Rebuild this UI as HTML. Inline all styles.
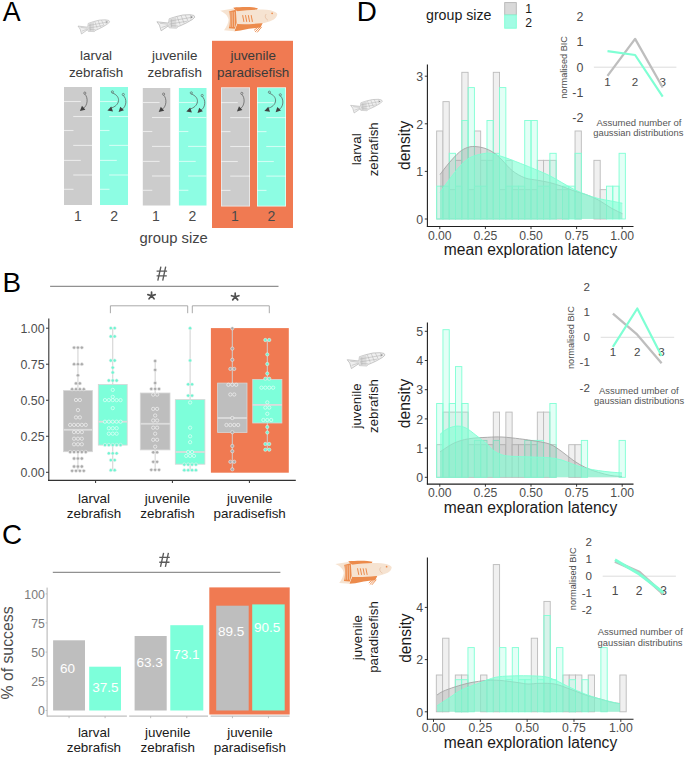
<!DOCTYPE html>
<html><head><meta charset="utf-8"><style>
html,body{margin:0;padding:0;background:#fff;width:685px;height:757px;overflow:hidden}
svg{display:block}
text{font-family:"Liberation Sans", sans-serif}
</style></head><body>
<svg width="685" height="757" viewBox="0 0 685 757">
<rect width="685" height="757" fill="#FFFFFF"/>
<text x="2.85" y="20.80" font-size="27.8" fill="#000" text-anchor="start" textLength="17.9" lengthAdjust="spacingAndGlyphs">A</text>
<g transform="translate(78.00,19.80) scale(0.8404,0.9221)"><path d="M0,6.8 L11.6,8 L12.2,3.9 L18.6,1.9 L25.7,0.3 L32.8,0 L36.6,0.7 L37.6,2.3 L35.3,4.5 L28.9,8 L23.8,10.3 L21.2,11.3 L19.3,12.8 L12.2,12.5 L11.6,10.6 L4.2,15.4 L2.5,10 Z" fill="#EFEFEF" stroke="#B3B3B3" stroke-width="0.7" stroke-linejoin="round"/><path d="M12.2,4 L19,2 L19.3,12.8 L12.2,12.5 Z" fill="#DADADA" stroke="none"/><path d="M12.5,6.2 L35,2.4" stroke="#B3B3B3" stroke-width="0.55" fill="none"/><path d="M12.5,9 L30,6.2" stroke="#B3B3B3" stroke-width="0.55" fill="none"/><path d="M20,2 L23,9.5" stroke="#B3B3B3" stroke-width="0.55" fill="none"/><path d="M24,1 L27,8.3" stroke="#B3B3B3" stroke-width="0.55" fill="none"/><path d="M28,0.4 L31,6.4" stroke="#B3B3B3" stroke-width="0.55" fill="none"/><path d="M33.2,0.4 L33.6,4.6" stroke="#B3B3B3" stroke-width="0.55" fill="none"/><path d="M3,8.2 L11.4,9.2" stroke="#B3B3B3" stroke-width="0.55" fill="none"/><path d="M4.5,12.3 L11.3,10" stroke="#B3B3B3" stroke-width="0.55" fill="none"/><path d="M14,10.5 L21,10.8" stroke="#B3B3B3" stroke-width="0.55" fill="none"/><path d="M14.5,4.5 L14.5,12" stroke="#B3B3B3" stroke-width="0.55" fill="none"/><circle cx="34.4" cy="2.3" r="0.8" fill="#8A8A8A"/></g>
<g transform="translate(156.90,14.70) scale(1.0106,1.0455)"><path d="M0,6.8 L11.6,8 L12.2,3.9 L18.6,1.9 L25.7,0.3 L32.8,0 L36.6,0.7 L37.6,2.3 L35.3,4.5 L28.9,8 L23.8,10.3 L21.2,11.3 L19.3,12.8 L12.2,12.5 L11.6,10.6 L4.2,15.4 L2.5,10 Z" fill="#EFEFEF" stroke="#B3B3B3" stroke-width="0.7" stroke-linejoin="round"/><path d="M12.2,4 L19,2 L19.3,12.8 L12.2,12.5 Z" fill="#DADADA" stroke="none"/><path d="M12.5,6.2 L35,2.4" stroke="#B3B3B3" stroke-width="0.55" fill="none"/><path d="M12.5,9 L30,6.2" stroke="#B3B3B3" stroke-width="0.55" fill="none"/><path d="M20,2 L23,9.5" stroke="#B3B3B3" stroke-width="0.55" fill="none"/><path d="M24,1 L27,8.3" stroke="#B3B3B3" stroke-width="0.55" fill="none"/><path d="M28,0.4 L31,6.4" stroke="#B3B3B3" stroke-width="0.55" fill="none"/><path d="M33.2,0.4 L33.6,4.6" stroke="#B3B3B3" stroke-width="0.55" fill="none"/><path d="M3,8.2 L11.4,9.2" stroke="#B3B3B3" stroke-width="0.55" fill="none"/><path d="M4.5,12.3 L11.3,10" stroke="#B3B3B3" stroke-width="0.55" fill="none"/><path d="M14,10.5 L21,10.8" stroke="#B3B3B3" stroke-width="0.55" fill="none"/><path d="M14.5,4.5 L14.5,12" stroke="#B3B3B3" stroke-width="0.55" fill="none"/><circle cx="34.4" cy="2.3" r="0.8" fill="#8A8A8A"/></g>
<rect x="212.00" y="40.80" width="81.00" height="187.20" fill="#F07A52" />
<g transform="translate(220.10,7.10) scale(1.0142,1.0449)"><path d="M13,0.6 C18,0.1 26,-0.2 32,0.2 L37.2,1.0 L36,3.2 L24,5.0 L17.5,6.8 Z" fill="#EC8B4C"/><path d="M14,23.1 L16.9,15.2 L42,15.2 L40,19.3 L28.4,20.8 L20,22.5 Z" fill="#EC8B4C"/><path d="M34.5,23.8 L40,18.5 M36.5,24.2 L41,19 M33.5,22.2 L39,18" stroke="#EC8B4C" stroke-width="0.9" fill="none"/><path d="M0,3.4 L13,1.4 L17,4 L17,16 L14,23.1 L3.9,22.2 C6.5,19 8.2,15 8.4,12.2 C8,8.5 4.5,5.2 0,3.4 Z" fill="#F6E3D1"/><path d="M8.6,4.2 L15.5,2.6 L16.3,15 L14.5,20.8 L8.6,20.2 C9.8,16 10.4,9 8.6,4.2 Z" fill="#EC8B4C"/><path d="M9.6,4.5 L9.9,19" stroke="#F6E3D1" stroke-width="0.7" fill="none" stroke-opacity="0.8"/><path d="M11.8,4.5 L12.100000000000001,19" stroke="#F6E3D1" stroke-width="0.7" fill="none" stroke-opacity="0.8"/><path d="M14.0,4.5 L14.3,19" stroke="#F6E3D1" stroke-width="0.7" fill="none" stroke-opacity="0.8"/><path d="M16.5,4 C24,3.2 31,2.4 37.2,2.4 C44,2.4 49,2.8 52.5,3.9 C55,4.8 56.4,5.8 56.4,6.9 C56,9.5 54.5,11 52.5,12 C48,14 44,15.2 40.9,15.4 C34,16 28,16.4 23.6,16.4 L16.9,16.2 Z" fill="#F6E3D1"/><path d="M22.2,7.6 L23.5,14.2" stroke="#EC8B4C" stroke-width="1.0" fill="none"/><path d="M25.0,7.6 L26.3,14.2" stroke="#EC8B4C" stroke-width="1.0" fill="none"/><path d="M27.8,7.6 L29.1,14.2" stroke="#EC8B4C" stroke-width="1.0" fill="none"/><path d="M30.6,7.6 L31.900000000000002,14.2" stroke="#EC8B4C" stroke-width="1.0" fill="none"/><path d="M45.6,6.6 C43.8,8.2 44.2,11 47.2,12.5" stroke="#D9A583" stroke-width="0.45" fill="none"/><circle cx="51.3" cy="6.0" r="0.85" fill="#EC8B4C"/></g>
<text x="96.10" y="60.20" font-size="13.4" fill="#3A3A3A" text-anchor="middle" >larval</text>
<text x="96.10" y="76.60" font-size="13.4" fill="#3A3A3A" text-anchor="middle" >zebrafish</text>
<text x="174.70" y="60.20" font-size="13.4" fill="#3A3A3A" text-anchor="middle" >juvenile</text>
<text x="174.70" y="76.60" font-size="13.4" fill="#3A3A3A" text-anchor="middle" >zebrafish</text>
<text x="253.20" y="60.20" font-size="13.4" fill="#3A3A3A" text-anchor="middle" >juvenile</text>
<text x="253.20" y="76.60" font-size="13.4" fill="#3A3A3A" text-anchor="middle" >paradisefish</text>
<rect x="64.00" y="87.00" width="28.00" height="118.00" fill="#CCCCCC" />
<line x1="64.00" y1="101.50" x2="80.80" y2="101.50" stroke="#FFFFFF" stroke-width="1.1" stroke-opacity="0.6"/>
<line x1="73.20" y1="116.50" x2="92.00" y2="116.50" stroke="#FFFFFF" stroke-width="1.1" stroke-opacity="0.6"/>
<line x1="64.00" y1="130.50" x2="73.50" y2="130.50" stroke="#FFFFFF" stroke-width="1.1" stroke-opacity="0.6"/>
<line x1="73.20" y1="145.40" x2="92.00" y2="145.40" stroke="#FFFFFF" stroke-width="1.1" stroke-opacity="0.6"/>
<line x1="64.00" y1="160.40" x2="80.80" y2="160.40" stroke="#FFFFFF" stroke-width="1.1" stroke-opacity="0.6"/>
<line x1="73.20" y1="175.00" x2="92.00" y2="175.00" stroke="#FFFFFF" stroke-width="1.1" stroke-opacity="0.6"/>
<line x1="64.00" y1="189.30" x2="73.50" y2="189.30" stroke="#FFFFFF" stroke-width="1.1" stroke-opacity="0.6"/>
<circle cx="84.80" cy="93.10" r="1.1" fill="none" stroke="#555" stroke-width="0.6"/>
<path d="M84.80,94.20 C88.20,97.10 88.20,106.10 82.50,108.90" fill="none" stroke="#555" stroke-width="0.7"/>
<polygon points="79.90,111.10 81.98,105.86 85.38,109.79" fill="#404040"/>
<rect x="100.00" y="87.00" width="28.00" height="118.00" fill="#8DFDE3" />
<line x1="100.00" y1="101.50" x2="116.80" y2="101.50" stroke="#FFFFFF" stroke-width="1.1" stroke-opacity="0.6"/>
<line x1="109.20" y1="116.50" x2="128.00" y2="116.50" stroke="#FFFFFF" stroke-width="1.1" stroke-opacity="0.6"/>
<line x1="100.00" y1="130.50" x2="109.50" y2="130.50" stroke="#FFFFFF" stroke-width="1.1" stroke-opacity="0.6"/>
<line x1="109.20" y1="145.40" x2="128.00" y2="145.40" stroke="#FFFFFF" stroke-width="1.1" stroke-opacity="0.6"/>
<line x1="100.00" y1="160.40" x2="116.80" y2="160.40" stroke="#FFFFFF" stroke-width="1.1" stroke-opacity="0.6"/>
<line x1="109.20" y1="175.00" x2="128.00" y2="175.00" stroke="#FFFFFF" stroke-width="1.1" stroke-opacity="0.6"/>
<line x1="100.00" y1="189.30" x2="109.50" y2="189.30" stroke="#FFFFFF" stroke-width="1.1" stroke-opacity="0.6"/>
<circle cx="112.40" cy="91.90" r="1.1" fill="none" stroke="#555" stroke-width="0.6"/>
<path d="M112.40,93.00 C121.00,95.90 121.00,105.60 110.00,108.40" fill="none" stroke="#555" stroke-width="0.7"/>
<polygon points="107.40,110.60 111.26,106.49 112.98,111.40" fill="#404040"/>
<circle cx="123.30" cy="94.50" r="1.1" fill="none" stroke="#555" stroke-width="0.6"/>
<path d="M123.30,95.60 C127.00,98.50 127.00,107.00 121.20,109.80" fill="none" stroke="#555" stroke-width="0.7"/>
<polygon points="118.60,112.00 120.30,106.63 123.97,110.30" fill="#404040"/>
<rect x="142.80" y="88.00" width="27.50" height="117.50" fill="#CCCCCC" />
<line x1="142.80" y1="102.50" x2="159.60" y2="102.50" stroke="#FFFFFF" stroke-width="1.1" stroke-opacity="0.6"/>
<line x1="152.00" y1="117.50" x2="170.30" y2="117.50" stroke="#FFFFFF" stroke-width="1.1" stroke-opacity="0.6"/>
<line x1="142.80" y1="131.50" x2="152.30" y2="131.50" stroke="#FFFFFF" stroke-width="1.1" stroke-opacity="0.6"/>
<line x1="152.00" y1="146.40" x2="170.30" y2="146.40" stroke="#FFFFFF" stroke-width="1.1" stroke-opacity="0.6"/>
<line x1="142.80" y1="161.40" x2="159.60" y2="161.40" stroke="#FFFFFF" stroke-width="1.1" stroke-opacity="0.6"/>
<line x1="152.00" y1="176.00" x2="170.30" y2="176.00" stroke="#FFFFFF" stroke-width="1.1" stroke-opacity="0.6"/>
<line x1="142.80" y1="190.30" x2="152.30" y2="190.30" stroke="#FFFFFF" stroke-width="1.1" stroke-opacity="0.6"/>
<circle cx="163.60" cy="94.10" r="1.1" fill="none" stroke="#555" stroke-width="0.6"/>
<path d="M163.60,95.20 C167.00,98.10 167.00,107.10 161.30,109.90" fill="none" stroke="#555" stroke-width="0.7"/>
<polygon points="158.70,112.10 160.78,106.86 164.18,110.79" fill="#404040"/>
<rect x="178.90" y="88.00" width="27.60" height="117.50" fill="#8DFDE3" />
<line x1="178.90" y1="102.50" x2="195.70" y2="102.50" stroke="#FFFFFF" stroke-width="1.1" stroke-opacity="0.6"/>
<line x1="188.10" y1="117.50" x2="206.50" y2="117.50" stroke="#FFFFFF" stroke-width="1.1" stroke-opacity="0.6"/>
<line x1="178.90" y1="131.50" x2="188.40" y2="131.50" stroke="#FFFFFF" stroke-width="1.1" stroke-opacity="0.6"/>
<line x1="188.10" y1="146.40" x2="206.50" y2="146.40" stroke="#FFFFFF" stroke-width="1.1" stroke-opacity="0.6"/>
<line x1="178.90" y1="161.40" x2="195.70" y2="161.40" stroke="#FFFFFF" stroke-width="1.1" stroke-opacity="0.6"/>
<line x1="188.10" y1="176.00" x2="206.50" y2="176.00" stroke="#FFFFFF" stroke-width="1.1" stroke-opacity="0.6"/>
<line x1="178.90" y1="190.30" x2="188.40" y2="190.30" stroke="#FFFFFF" stroke-width="1.1" stroke-opacity="0.6"/>
<circle cx="191.30" cy="92.90" r="1.1" fill="none" stroke="#555" stroke-width="0.6"/>
<path d="M191.30,94.00 C199.90,96.90 199.90,106.60 188.90,109.40" fill="none" stroke="#555" stroke-width="0.7"/>
<polygon points="186.30,111.60 190.16,107.49 191.88,112.40" fill="#404040"/>
<circle cx="202.20" cy="95.50" r="1.1" fill="none" stroke="#555" stroke-width="0.6"/>
<path d="M202.20,96.60 C205.90,99.50 205.90,108.00 200.10,110.80" fill="none" stroke="#555" stroke-width="0.7"/>
<polygon points="197.50,113.00 199.20,107.63 202.87,111.30" fill="#404040"/>
<rect x="221.00" y="87.30" width="29.00" height="119.20" fill="#EDEDED" />
<rect x="221.80" y="88.10" width="27.40" height="117.60" fill="#CCCCCC" />
<line x1="221.00" y1="102.60" x2="237.80" y2="102.60" stroke="#FFFFFF" stroke-width="1.1" stroke-opacity="0.6"/>
<line x1="230.20" y1="117.60" x2="250.00" y2="117.60" stroke="#FFFFFF" stroke-width="1.1" stroke-opacity="0.6"/>
<line x1="221.00" y1="131.60" x2="230.50" y2="131.60" stroke="#FFFFFF" stroke-width="1.1" stroke-opacity="0.6"/>
<line x1="230.20" y1="146.50" x2="250.00" y2="146.50" stroke="#FFFFFF" stroke-width="1.1" stroke-opacity="0.6"/>
<line x1="221.00" y1="161.50" x2="237.80" y2="161.50" stroke="#FFFFFF" stroke-width="1.1" stroke-opacity="0.6"/>
<line x1="230.20" y1="176.10" x2="250.00" y2="176.10" stroke="#FFFFFF" stroke-width="1.1" stroke-opacity="0.6"/>
<line x1="221.00" y1="190.40" x2="230.50" y2="190.40" stroke="#FFFFFF" stroke-width="1.1" stroke-opacity="0.6"/>
<circle cx="241.80" cy="93.40" r="1.1" fill="none" stroke="#555" stroke-width="0.6"/>
<path d="M241.80,94.50 C245.20,97.40 245.20,106.40 239.50,109.20" fill="none" stroke="#555" stroke-width="0.7"/>
<polygon points="236.90,111.40 238.98,106.16 242.38,110.09" fill="#404040"/>
<rect x="257.00" y="87.30" width="29.00" height="119.20" fill="#E6FFF8" />
<rect x="257.80" y="88.10" width="27.40" height="117.60" fill="#8DFDE3" />
<line x1="257.00" y1="102.60" x2="273.80" y2="102.60" stroke="#FFFFFF" stroke-width="1.1" stroke-opacity="0.6"/>
<line x1="266.20" y1="117.60" x2="286.00" y2="117.60" stroke="#FFFFFF" stroke-width="1.1" stroke-opacity="0.6"/>
<line x1="257.00" y1="131.60" x2="266.50" y2="131.60" stroke="#FFFFFF" stroke-width="1.1" stroke-opacity="0.6"/>
<line x1="266.20" y1="146.50" x2="286.00" y2="146.50" stroke="#FFFFFF" stroke-width="1.1" stroke-opacity="0.6"/>
<line x1="257.00" y1="161.50" x2="273.80" y2="161.50" stroke="#FFFFFF" stroke-width="1.1" stroke-opacity="0.6"/>
<line x1="266.20" y1="176.10" x2="286.00" y2="176.10" stroke="#FFFFFF" stroke-width="1.1" stroke-opacity="0.6"/>
<line x1="257.00" y1="190.40" x2="266.50" y2="190.40" stroke="#FFFFFF" stroke-width="1.1" stroke-opacity="0.6"/>
<circle cx="269.40" cy="92.20" r="1.1" fill="none" stroke="#555" stroke-width="0.6"/>
<path d="M269.40,93.30 C278.00,96.20 278.00,105.90 267.00,108.70" fill="none" stroke="#555" stroke-width="0.7"/>
<polygon points="264.40,110.90 268.26,106.79 269.98,111.70" fill="#404040"/>
<circle cx="280.30" cy="94.80" r="1.1" fill="none" stroke="#555" stroke-width="0.6"/>
<path d="M280.30,95.90 C284.00,98.80 284.00,107.30 278.20,110.10" fill="none" stroke="#555" stroke-width="0.7"/>
<polygon points="275.60,112.30 277.30,106.93 280.97,110.60" fill="#404040"/>
<text x="78.00" y="220.90" font-size="14" fill="#4A4A4A" text-anchor="middle" >1</text>
<text x="114.20" y="220.90" font-size="14" fill="#4A4A4A" text-anchor="middle" >2</text>
<text x="156.00" y="220.90" font-size="14" fill="#4A4A4A" text-anchor="middle" >1</text>
<text x="192.50" y="220.90" font-size="14" fill="#4A4A4A" text-anchor="middle" >2</text>
<text x="235.00" y="220.90" font-size="14" fill="#4A4A4A" text-anchor="middle" >1</text>
<text x="271.50" y="220.90" font-size="14" fill="#4A4A4A" text-anchor="middle" >2</text>
<text x="173.70" y="243.00" font-size="14.8" fill="#444" text-anchor="middle" >group size</text>
<text x="2.40" y="291.90" font-size="27.8" fill="#000" text-anchor="start" >B</text>
<path d="M160.90,266.60 L157.80,280.60 M165.70,266.60 L162.70,280.60 M156.60,271.10 L167.10,271.10 M156.60,275.90 L166.80,275.90" stroke="#5A5A5A" stroke-width="1.35" fill="none"/>
<line x1="50.10" y1="286.30" x2="278.50" y2="286.30" stroke="#666" stroke-width="0.9" />
<path d="M151.55,295.70 L151.55,292.10 M151.55,295.70 L147.85,294.60 M151.55,295.70 L155.25,294.60 M151.55,295.70 L149.05,298.80 M151.55,295.70 L154.05,298.80" stroke="#505050" stroke-width="1.7" stroke-linecap="round" fill="none"/>
<path d="M235.20,296.80 L235.20,293.20 M235.20,296.80 L231.50,295.70 M235.20,296.80 L238.90,295.70 M235.20,296.80 L232.70,299.90 M235.20,296.80 L237.70,299.90" stroke="#505050" stroke-width="1.7" stroke-linecap="round" fill="none"/>
<path d="M110.4,313.2 V305.8 H187.7 V313.2" fill="none" stroke="#A0A0A0" stroke-width="0.9"/>
<path d="M192.3,313.2 V305.8 H269.3 V313.2" fill="none" stroke="#A0A0A0" stroke-width="0.9"/>
<rect x="210.90" y="328.10" width="77.90" height="144.60" fill="#F07A52" />
<line x1="48.80" y1="318.50" x2="48.80" y2="480.90" stroke="#333" stroke-width="1.1" />
<line x1="48.00" y1="480.40" x2="295.80" y2="480.40" stroke="#333" stroke-width="1.1" />
<line x1="46.00" y1="328.20" x2="48.80" y2="328.20" stroke="#333" stroke-width="1" />
<text x="44.60" y="333.00" font-size="12.4" fill="#4D4D4D" text-anchor="end" >1.00</text>
<line x1="46.00" y1="364.23" x2="48.80" y2="364.23" stroke="#333" stroke-width="1" />
<text x="44.60" y="369.03" font-size="12.4" fill="#4D4D4D" text-anchor="end" >0.75</text>
<line x1="46.00" y1="400.25" x2="48.80" y2="400.25" stroke="#333" stroke-width="1" />
<text x="44.60" y="405.05" font-size="12.4" fill="#4D4D4D" text-anchor="end" >0.50</text>
<line x1="46.00" y1="436.28" x2="48.80" y2="436.28" stroke="#333" stroke-width="1" />
<text x="44.60" y="441.08" font-size="12.4" fill="#4D4D4D" text-anchor="end" >0.25</text>
<line x1="46.00" y1="472.30" x2="48.80" y2="472.30" stroke="#333" stroke-width="1" />
<text x="44.60" y="477.10" font-size="12.4" fill="#4D4D4D" text-anchor="end" >0.00</text>
<line x1="95.60" y1="480.40" x2="95.60" y2="483.00" stroke="#333" stroke-width="1" />
<line x1="172.40" y1="480.40" x2="172.40" y2="483.00" stroke="#333" stroke-width="1" />
<line x1="249.40" y1="480.40" x2="249.40" y2="483.00" stroke="#333" stroke-width="1" />
<text x="94.00" y="502.60" font-size="13.4" fill="#1A1A1A" text-anchor="middle" >larval</text>
<text x="94.00" y="517.90" font-size="13.4" fill="#1A1A1A" text-anchor="middle" >zebrafish</text>
<text x="167.50" y="502.60" font-size="13.4" fill="#1A1A1A" text-anchor="middle" >juvenile</text>
<text x="167.50" y="517.90" font-size="13.4" fill="#1A1A1A" text-anchor="middle" >zebrafish</text>
<text x="249.70" y="502.60" font-size="13.4" fill="#1A1A1A" text-anchor="middle" >juvenile</text>
<text x="249.70" y="517.90" font-size="13.4" fill="#1A1A1A" text-anchor="middle" >paradisefish</text>
<line x1="77.95" y1="347.40" x2="77.95" y2="390.60" stroke="#CFCFCF" stroke-width="1" />
<line x1="77.95" y1="451.70" x2="77.95" y2="470.80" stroke="#CFCFCF" stroke-width="1" />
<rect x="63.40" y="390.60" width="29.10" height="61.10" fill="#BEBEBE" stroke="#D6D6D6" stroke-width="0.8"/>
<line x1="63.40" y1="429.80" x2="92.50" y2="429.80" stroke="#DCDCDC" stroke-width="1.8" />
<circle cx="74.05" cy="347.60" r="1.65" fill="#ABABAB" stroke="#F2F2F2" stroke-width="0.55"/>
<circle cx="77.95" cy="347.60" r="1.65" fill="#ABABAB" stroke="#F2F2F2" stroke-width="0.55"/>
<circle cx="81.85" cy="347.60" r="1.65" fill="#ABABAB" stroke="#F2F2F2" stroke-width="0.55"/>
<circle cx="74.05" cy="364.20" r="1.65" fill="#ABABAB" stroke="#F2F2F2" stroke-width="0.55"/>
<circle cx="77.95" cy="364.20" r="1.65" fill="#ABABAB" stroke="#F2F2F2" stroke-width="0.55"/>
<circle cx="81.85" cy="364.20" r="1.65" fill="#ABABAB" stroke="#F2F2F2" stroke-width="0.55"/>
<circle cx="77.95" cy="375.30" r="1.65" fill="#ABABAB" stroke="#F2F2F2" stroke-width="0.55"/>
<circle cx="76.00" cy="383.40" r="1.65" fill="#ABABAB" stroke="#F2F2F2" stroke-width="0.55"/>
<circle cx="79.90" cy="383.40" r="1.65" fill="#ABABAB" stroke="#F2F2F2" stroke-width="0.55"/>
<circle cx="72.10" cy="389.20" r="1.65" fill="#ABABAB" stroke="#F2F2F2" stroke-width="0.55"/>
<circle cx="76.00" cy="389.20" r="1.65" fill="#ABABAB" stroke="#F2F2F2" stroke-width="0.55"/>
<circle cx="79.90" cy="389.20" r="1.65" fill="#ABABAB" stroke="#F2F2F2" stroke-width="0.55"/>
<circle cx="83.80" cy="389.20" r="1.65" fill="#ABABAB" stroke="#F2F2F2" stroke-width="0.55"/>
<circle cx="76.00" cy="400.00" r="1.65" fill="#BEBEBE" stroke="#FFFFFF" stroke-width="0.55"/>
<circle cx="79.90" cy="400.00" r="1.65" fill="#BEBEBE" stroke="#FFFFFF" stroke-width="0.55"/>
<circle cx="77.95" cy="410.10" r="1.65" fill="#BEBEBE" stroke="#FFFFFF" stroke-width="0.55"/>
<circle cx="76.00" cy="417.40" r="1.65" fill="#BEBEBE" stroke="#FFFFFF" stroke-width="0.55"/>
<circle cx="79.90" cy="417.40" r="1.65" fill="#BEBEBE" stroke="#FFFFFF" stroke-width="0.55"/>
<circle cx="70.15" cy="424.90" r="1.65" fill="#BEBEBE" stroke="#FFFFFF" stroke-width="0.55"/>
<circle cx="74.05" cy="424.90" r="1.65" fill="#BEBEBE" stroke="#FFFFFF" stroke-width="0.55"/>
<circle cx="77.95" cy="424.90" r="1.65" fill="#BEBEBE" stroke="#FFFFFF" stroke-width="0.55"/>
<circle cx="81.85" cy="424.90" r="1.65" fill="#BEBEBE" stroke="#FFFFFF" stroke-width="0.55"/>
<circle cx="85.75" cy="424.90" r="1.65" fill="#BEBEBE" stroke="#FFFFFF" stroke-width="0.55"/>
<circle cx="74.05" cy="432.10" r="1.65" fill="#BEBEBE" stroke="#FFFFFF" stroke-width="0.55"/>
<circle cx="77.95" cy="432.10" r="1.65" fill="#BEBEBE" stroke="#FFFFFF" stroke-width="0.55"/>
<circle cx="81.85" cy="432.10" r="1.65" fill="#BEBEBE" stroke="#FFFFFF" stroke-width="0.55"/>
<circle cx="74.05" cy="438.70" r="1.65" fill="#BEBEBE" stroke="#FFFFFF" stroke-width="0.55"/>
<circle cx="77.95" cy="438.70" r="1.65" fill="#BEBEBE" stroke="#FFFFFF" stroke-width="0.55"/>
<circle cx="81.85" cy="438.70" r="1.65" fill="#BEBEBE" stroke="#FFFFFF" stroke-width="0.55"/>
<circle cx="74.05" cy="444.30" r="1.65" fill="#BEBEBE" stroke="#FFFFFF" stroke-width="0.55"/>
<circle cx="77.95" cy="444.30" r="1.65" fill="#BEBEBE" stroke="#FFFFFF" stroke-width="0.55"/>
<circle cx="81.85" cy="444.30" r="1.65" fill="#BEBEBE" stroke="#FFFFFF" stroke-width="0.55"/>
<circle cx="70.15" cy="452.00" r="1.65" fill="#ABABAB" stroke="#F2F2F2" stroke-width="0.55"/>
<circle cx="74.05" cy="452.00" r="1.65" fill="#ABABAB" stroke="#F2F2F2" stroke-width="0.55"/>
<circle cx="77.95" cy="452.00" r="1.65" fill="#ABABAB" stroke="#F2F2F2" stroke-width="0.55"/>
<circle cx="81.85" cy="452.00" r="1.65" fill="#ABABAB" stroke="#F2F2F2" stroke-width="0.55"/>
<circle cx="85.75" cy="452.00" r="1.65" fill="#ABABAB" stroke="#F2F2F2" stroke-width="0.55"/>
<circle cx="74.05" cy="458.50" r="1.65" fill="#ABABAB" stroke="#F2F2F2" stroke-width="0.55"/>
<circle cx="77.95" cy="458.50" r="1.65" fill="#ABABAB" stroke="#F2F2F2" stroke-width="0.55"/>
<circle cx="81.85" cy="458.50" r="1.65" fill="#ABABAB" stroke="#F2F2F2" stroke-width="0.55"/>
<circle cx="74.05" cy="466.50" r="1.65" fill="#ABABAB" stroke="#F2F2F2" stroke-width="0.55"/>
<circle cx="77.95" cy="466.50" r="1.65" fill="#ABABAB" stroke="#F2F2F2" stroke-width="0.55"/>
<circle cx="81.85" cy="466.50" r="1.65" fill="#ABABAB" stroke="#F2F2F2" stroke-width="0.55"/>
<circle cx="72.10" cy="470.80" r="1.65" fill="#ABABAB" stroke="#F2F2F2" stroke-width="0.55"/>
<circle cx="76.00" cy="470.80" r="1.65" fill="#ABABAB" stroke="#F2F2F2" stroke-width="0.55"/>
<circle cx="79.90" cy="470.80" r="1.65" fill="#ABABAB" stroke="#F2F2F2" stroke-width="0.55"/>
<circle cx="83.80" cy="470.80" r="1.65" fill="#ABABAB" stroke="#F2F2F2" stroke-width="0.55"/>
<line x1="112.75" y1="328.10" x2="112.75" y2="384.40" stroke="#CFCFCF" stroke-width="1" />
<line x1="112.75" y1="445.10" x2="112.75" y2="470.20" stroke="#CFCFCF" stroke-width="1" />
<rect x="98.30" y="384.40" width="28.90" height="60.70" fill="#7DFFDA" stroke="#D6D6D6" stroke-width="0.8"/>
<line x1="98.30" y1="421.70" x2="127.20" y2="421.70" stroke="#DCDCDC" stroke-width="1.8" />
<circle cx="110.80" cy="328.10" r="1.65" fill="#6FF5D2" stroke="#F2F2F2" stroke-width="0.55"/>
<circle cx="114.70" cy="328.10" r="1.65" fill="#6FF5D2" stroke="#F2F2F2" stroke-width="0.55"/>
<circle cx="110.80" cy="336.40" r="1.65" fill="#6FF5D2" stroke="#F2F2F2" stroke-width="0.55"/>
<circle cx="114.70" cy="336.40" r="1.65" fill="#6FF5D2" stroke="#F2F2F2" stroke-width="0.55"/>
<circle cx="110.80" cy="360.50" r="1.65" fill="#6FF5D2" stroke="#F2F2F2" stroke-width="0.55"/>
<circle cx="114.70" cy="360.50" r="1.65" fill="#6FF5D2" stroke="#F2F2F2" stroke-width="0.55"/>
<circle cx="112.75" cy="367.60" r="1.65" fill="#6FF5D2" stroke="#F2F2F2" stroke-width="0.55"/>
<circle cx="112.75" cy="372.50" r="1.65" fill="#6FF5D2" stroke="#F2F2F2" stroke-width="0.55"/>
<circle cx="108.85" cy="380.50" r="1.65" fill="#6FF5D2" stroke="#F2F2F2" stroke-width="0.55"/>
<circle cx="112.75" cy="380.50" r="1.65" fill="#6FF5D2" stroke="#F2F2F2" stroke-width="0.55"/>
<circle cx="116.65" cy="380.50" r="1.65" fill="#6FF5D2" stroke="#F2F2F2" stroke-width="0.55"/>
<circle cx="112.75" cy="389.90" r="1.65" fill="#7DFFDA" stroke="#FFFFFF" stroke-width="0.55"/>
<circle cx="112.75" cy="396.90" r="1.65" fill="#7DFFDA" stroke="#FFFFFF" stroke-width="0.55"/>
<circle cx="104.95" cy="400.10" r="1.65" fill="#7DFFDA" stroke="#FFFFFF" stroke-width="0.55"/>
<circle cx="108.85" cy="400.10" r="1.65" fill="#7DFFDA" stroke="#FFFFFF" stroke-width="0.55"/>
<circle cx="112.75" cy="400.10" r="1.65" fill="#7DFFDA" stroke="#FFFFFF" stroke-width="0.55"/>
<circle cx="116.65" cy="400.10" r="1.65" fill="#7DFFDA" stroke="#FFFFFF" stroke-width="0.55"/>
<circle cx="120.55" cy="400.10" r="1.65" fill="#7DFFDA" stroke="#FFFFFF" stroke-width="0.55"/>
<circle cx="112.75" cy="408.10" r="1.65" fill="#7DFFDA" stroke="#FFFFFF" stroke-width="0.55"/>
<circle cx="104.95" cy="421.70" r="1.65" fill="#7DFFDA" stroke="#FFFFFF" stroke-width="0.55"/>
<circle cx="108.85" cy="421.70" r="1.65" fill="#7DFFDA" stroke="#FFFFFF" stroke-width="0.55"/>
<circle cx="112.75" cy="421.70" r="1.65" fill="#7DFFDA" stroke="#FFFFFF" stroke-width="0.55"/>
<circle cx="116.65" cy="421.70" r="1.65" fill="#7DFFDA" stroke="#FFFFFF" stroke-width="0.55"/>
<circle cx="120.55" cy="421.70" r="1.65" fill="#7DFFDA" stroke="#FFFFFF" stroke-width="0.55"/>
<circle cx="108.85" cy="428.20" r="1.65" fill="#7DFFDA" stroke="#FFFFFF" stroke-width="0.55"/>
<circle cx="112.75" cy="428.20" r="1.65" fill="#7DFFDA" stroke="#FFFFFF" stroke-width="0.55"/>
<circle cx="116.65" cy="428.20" r="1.65" fill="#7DFFDA" stroke="#FFFFFF" stroke-width="0.55"/>
<circle cx="108.85" cy="433.70" r="1.65" fill="#7DFFDA" stroke="#FFFFFF" stroke-width="0.55"/>
<circle cx="112.75" cy="433.70" r="1.65" fill="#7DFFDA" stroke="#FFFFFF" stroke-width="0.55"/>
<circle cx="116.65" cy="433.70" r="1.65" fill="#7DFFDA" stroke="#FFFFFF" stroke-width="0.55"/>
<circle cx="104.95" cy="445.00" r="1.65" fill="#6FF5D2" stroke="#F2F2F2" stroke-width="0.55"/>
<circle cx="108.85" cy="445.00" r="1.65" fill="#6FF5D2" stroke="#F2F2F2" stroke-width="0.55"/>
<circle cx="112.75" cy="445.00" r="1.65" fill="#6FF5D2" stroke="#F2F2F2" stroke-width="0.55"/>
<circle cx="116.65" cy="445.00" r="1.65" fill="#6FF5D2" stroke="#F2F2F2" stroke-width="0.55"/>
<circle cx="120.55" cy="445.00" r="1.65" fill="#6FF5D2" stroke="#F2F2F2" stroke-width="0.55"/>
<circle cx="108.85" cy="453.30" r="1.65" fill="#6FF5D2" stroke="#F2F2F2" stroke-width="0.55"/>
<circle cx="112.75" cy="453.30" r="1.65" fill="#6FF5D2" stroke="#F2F2F2" stroke-width="0.55"/>
<circle cx="116.65" cy="453.30" r="1.65" fill="#6FF5D2" stroke="#F2F2F2" stroke-width="0.55"/>
<circle cx="110.80" cy="460.10" r="1.65" fill="#6FF5D2" stroke="#F2F2F2" stroke-width="0.55"/>
<circle cx="114.70" cy="460.10" r="1.65" fill="#6FF5D2" stroke="#F2F2F2" stroke-width="0.55"/>
<circle cx="110.80" cy="470.20" r="1.65" fill="#6FF5D2" stroke="#F2F2F2" stroke-width="0.55"/>
<circle cx="114.70" cy="470.20" r="1.65" fill="#6FF5D2" stroke="#F2F2F2" stroke-width="0.55"/>
<line x1="155.15" y1="361.00" x2="155.15" y2="393.00" stroke="#CFCFCF" stroke-width="1" />
<line x1="155.15" y1="449.90" x2="155.15" y2="469.80" stroke="#CFCFCF" stroke-width="1" />
<rect x="140.30" y="393.00" width="29.70" height="56.90" fill="#BEBEBE" stroke="#D6D6D6" stroke-width="0.8"/>
<line x1="140.30" y1="423.80" x2="170.00" y2="423.80" stroke="#DCDCDC" stroke-width="1.8" />
<circle cx="155.15" cy="361.00" r="1.65" fill="#ABABAB" stroke="#F2F2F2" stroke-width="0.55"/>
<circle cx="155.15" cy="369.90" r="1.65" fill="#ABABAB" stroke="#F2F2F2" stroke-width="0.55"/>
<circle cx="155.15" cy="383.00" r="1.65" fill="#ABABAB" stroke="#F2F2F2" stroke-width="0.55"/>
<circle cx="151.25" cy="388.90" r="1.65" fill="#ABABAB" stroke="#F2F2F2" stroke-width="0.55"/>
<circle cx="155.15" cy="388.90" r="1.65" fill="#ABABAB" stroke="#F2F2F2" stroke-width="0.55"/>
<circle cx="159.05" cy="388.90" r="1.65" fill="#ABABAB" stroke="#F2F2F2" stroke-width="0.55"/>
<circle cx="153.20" cy="394.60" r="1.65" fill="#BEBEBE" stroke="#FFFFFF" stroke-width="0.55"/>
<circle cx="157.10" cy="394.60" r="1.65" fill="#BEBEBE" stroke="#FFFFFF" stroke-width="0.55"/>
<circle cx="153.20" cy="408.90" r="1.65" fill="#BEBEBE" stroke="#FFFFFF" stroke-width="0.55"/>
<circle cx="157.10" cy="408.90" r="1.65" fill="#BEBEBE" stroke="#FFFFFF" stroke-width="0.55"/>
<circle cx="155.15" cy="415.50" r="1.65" fill="#BEBEBE" stroke="#FFFFFF" stroke-width="0.55"/>
<circle cx="153.20" cy="420.50" r="1.65" fill="#BEBEBE" stroke="#FFFFFF" stroke-width="0.55"/>
<circle cx="157.10" cy="420.50" r="1.65" fill="#BEBEBE" stroke="#FFFFFF" stroke-width="0.55"/>
<circle cx="153.20" cy="427.70" r="1.65" fill="#BEBEBE" stroke="#FFFFFF" stroke-width="0.55"/>
<circle cx="157.10" cy="427.70" r="1.65" fill="#BEBEBE" stroke="#FFFFFF" stroke-width="0.55"/>
<circle cx="155.15" cy="433.70" r="1.65" fill="#BEBEBE" stroke="#FFFFFF" stroke-width="0.55"/>
<circle cx="153.20" cy="439.80" r="1.65" fill="#BEBEBE" stroke="#FFFFFF" stroke-width="0.55"/>
<circle cx="157.10" cy="439.80" r="1.65" fill="#BEBEBE" stroke="#FFFFFF" stroke-width="0.55"/>
<circle cx="155.15" cy="446.70" r="1.65" fill="#BEBEBE" stroke="#FFFFFF" stroke-width="0.55"/>
<circle cx="153.20" cy="452.30" r="1.65" fill="#ABABAB" stroke="#F2F2F2" stroke-width="0.55"/>
<circle cx="157.10" cy="452.30" r="1.65" fill="#ABABAB" stroke="#F2F2F2" stroke-width="0.55"/>
<circle cx="153.20" cy="461.80" r="1.65" fill="#ABABAB" stroke="#F2F2F2" stroke-width="0.55"/>
<circle cx="157.10" cy="461.80" r="1.65" fill="#ABABAB" stroke="#F2F2F2" stroke-width="0.55"/>
<circle cx="151.25" cy="469.80" r="1.65" fill="#ABABAB" stroke="#F2F2F2" stroke-width="0.55"/>
<circle cx="155.15" cy="469.80" r="1.65" fill="#ABABAB" stroke="#F2F2F2" stroke-width="0.55"/>
<circle cx="159.05" cy="469.80" r="1.65" fill="#ABABAB" stroke="#F2F2F2" stroke-width="0.55"/>
<line x1="190.10" y1="328.20" x2="190.10" y2="399.60" stroke="#CFCFCF" stroke-width="1" />
<line x1="190.10" y1="464.20" x2="190.10" y2="470.20" stroke="#CFCFCF" stroke-width="1" />
<rect x="175.30" y="399.60" width="29.60" height="64.60" fill="#7DFFDA" stroke="#D6D6D6" stroke-width="0.8"/>
<line x1="175.30" y1="452.00" x2="204.90" y2="452.00" stroke="#DCDCDC" stroke-width="1.8" />
<circle cx="190.10" cy="328.20" r="1.65" fill="#6FF5D2" stroke="#F2F2F2" stroke-width="0.55"/>
<circle cx="190.10" cy="360.50" r="1.65" fill="#6FF5D2" stroke="#F2F2F2" stroke-width="0.55"/>
<circle cx="188.15" cy="384.30" r="1.65" fill="#6FF5D2" stroke="#F2F2F2" stroke-width="0.55"/>
<circle cx="192.05" cy="384.30" r="1.65" fill="#6FF5D2" stroke="#F2F2F2" stroke-width="0.55"/>
<circle cx="188.15" cy="395.60" r="1.65" fill="#6FF5D2" stroke="#F2F2F2" stroke-width="0.55"/>
<circle cx="192.05" cy="395.60" r="1.65" fill="#6FF5D2" stroke="#F2F2F2" stroke-width="0.55"/>
<circle cx="190.10" cy="402.50" r="1.65" fill="#7DFFDA" stroke="#FFFFFF" stroke-width="0.55"/>
<circle cx="190.10" cy="427.70" r="1.65" fill="#7DFFDA" stroke="#FFFFFF" stroke-width="0.55"/>
<circle cx="190.10" cy="436.30" r="1.65" fill="#7DFFDA" stroke="#FFFFFF" stroke-width="0.55"/>
<circle cx="190.10" cy="442.20" r="1.65" fill="#7DFFDA" stroke="#FFFFFF" stroke-width="0.55"/>
<circle cx="188.15" cy="452.00" r="1.65" fill="#7DFFDA" stroke="#FFFFFF" stroke-width="0.55"/>
<circle cx="192.05" cy="452.00" r="1.65" fill="#7DFFDA" stroke="#FFFFFF" stroke-width="0.55"/>
<circle cx="186.20" cy="455.90" r="1.65" fill="#7DFFDA" stroke="#FFFFFF" stroke-width="0.55"/>
<circle cx="190.10" cy="455.90" r="1.65" fill="#7DFFDA" stroke="#FFFFFF" stroke-width="0.55"/>
<circle cx="194.00" cy="455.90" r="1.65" fill="#7DFFDA" stroke="#FFFFFF" stroke-width="0.55"/>
<circle cx="184.25" cy="464.60" r="1.65" fill="#6FF5D2" stroke="#F2F2F2" stroke-width="0.55"/>
<circle cx="188.15" cy="464.60" r="1.65" fill="#6FF5D2" stroke="#F2F2F2" stroke-width="0.55"/>
<circle cx="192.05" cy="464.60" r="1.65" fill="#6FF5D2" stroke="#F2F2F2" stroke-width="0.55"/>
<circle cx="195.95" cy="464.60" r="1.65" fill="#6FF5D2" stroke="#F2F2F2" stroke-width="0.55"/>
<circle cx="184.25" cy="470.20" r="1.65" fill="#6FF5D2" stroke="#F2F2F2" stroke-width="0.55"/>
<circle cx="188.15" cy="470.20" r="1.65" fill="#6FF5D2" stroke="#F2F2F2" stroke-width="0.55"/>
<circle cx="192.05" cy="470.20" r="1.65" fill="#6FF5D2" stroke="#F2F2F2" stroke-width="0.55"/>
<circle cx="195.95" cy="470.20" r="1.65" fill="#6FF5D2" stroke="#F2F2F2" stroke-width="0.55"/>
<line x1="232.30" y1="328.30" x2="232.30" y2="383.10" stroke="#CFCFCF" stroke-width="1" />
<line x1="232.30" y1="432.50" x2="232.30" y2="469.30" stroke="#CFCFCF" stroke-width="1" />
<rect x="217.60" y="383.10" width="29.40" height="49.40" fill="#BEBEBE" stroke="#D6D6D6" stroke-width="0.8"/>
<line x1="217.60" y1="418.00" x2="247.00" y2="418.00" stroke="#DCDCDC" stroke-width="1.8" />
<circle cx="232.30" cy="328.30" r="1.65" fill="#ABABAB" stroke="#F2F2F2" stroke-width="0.55"/>
<circle cx="232.30" cy="348.60" r="1.65" fill="#ABABAB" stroke="#F2F2F2" stroke-width="0.55"/>
<circle cx="232.30" cy="359.80" r="1.65" fill="#ABABAB" stroke="#F2F2F2" stroke-width="0.55"/>
<circle cx="230.35" cy="368.90" r="1.65" fill="#ABABAB" stroke="#F2F2F2" stroke-width="0.55"/>
<circle cx="234.25" cy="368.90" r="1.65" fill="#ABABAB" stroke="#F2F2F2" stroke-width="0.55"/>
<circle cx="228.40" cy="384.80" r="1.65" fill="#BEBEBE" stroke="#FFFFFF" stroke-width="0.55"/>
<circle cx="232.30" cy="384.80" r="1.65" fill="#BEBEBE" stroke="#FFFFFF" stroke-width="0.55"/>
<circle cx="236.20" cy="384.80" r="1.65" fill="#BEBEBE" stroke="#FFFFFF" stroke-width="0.55"/>
<circle cx="230.35" cy="394.50" r="1.65" fill="#BEBEBE" stroke="#FFFFFF" stroke-width="0.55"/>
<circle cx="234.25" cy="394.50" r="1.65" fill="#BEBEBE" stroke="#FFFFFF" stroke-width="0.55"/>
<circle cx="232.30" cy="418.00" r="1.65" fill="#BEBEBE" stroke="#FFFFFF" stroke-width="0.55"/>
<circle cx="226.45" cy="425.00" r="1.65" fill="#BEBEBE" stroke="#FFFFFF" stroke-width="0.55"/>
<circle cx="230.35" cy="425.00" r="1.65" fill="#BEBEBE" stroke="#FFFFFF" stroke-width="0.55"/>
<circle cx="234.25" cy="425.00" r="1.65" fill="#BEBEBE" stroke="#FFFFFF" stroke-width="0.55"/>
<circle cx="238.15" cy="425.00" r="1.65" fill="#BEBEBE" stroke="#FFFFFF" stroke-width="0.55"/>
<circle cx="232.30" cy="432.20" r="1.65" fill="#ABABAB" stroke="#F2F2F2" stroke-width="0.55"/>
<circle cx="232.30" cy="446.00" r="1.65" fill="#ABABAB" stroke="#F2F2F2" stroke-width="0.55"/>
<circle cx="232.30" cy="451.20" r="1.65" fill="#ABABAB" stroke="#F2F2F2" stroke-width="0.55"/>
<circle cx="230.35" cy="461.80" r="1.65" fill="#ABABAB" stroke="#F2F2F2" stroke-width="0.55"/>
<circle cx="234.25" cy="461.80" r="1.65" fill="#ABABAB" stroke="#F2F2F2" stroke-width="0.55"/>
<circle cx="232.30" cy="469.30" r="1.65" fill="#ABABAB" stroke="#F2F2F2" stroke-width="0.55"/>
<line x1="267.30" y1="340.00" x2="267.30" y2="379.40" stroke="#CFCFCF" stroke-width="1" />
<line x1="267.30" y1="423.00" x2="267.30" y2="449.70" stroke="#CFCFCF" stroke-width="1" />
<rect x="252.70" y="379.40" width="29.20" height="43.60" fill="#7DFFDA" stroke="#D6D6D6" stroke-width="0.8"/>
<line x1="252.70" y1="404.90" x2="281.90" y2="404.90" stroke="#DCDCDC" stroke-width="1.8" />
<circle cx="265.35" cy="340.00" r="1.65" fill="#6FF5D2" stroke="#F2F2F2" stroke-width="0.55"/>
<circle cx="269.25" cy="340.00" r="1.65" fill="#6FF5D2" stroke="#F2F2F2" stroke-width="0.55"/>
<circle cx="267.30" cy="354.40" r="1.65" fill="#6FF5D2" stroke="#F2F2F2" stroke-width="0.55"/>
<circle cx="267.30" cy="364.00" r="1.65" fill="#6FF5D2" stroke="#F2F2F2" stroke-width="0.55"/>
<circle cx="267.30" cy="373.50" r="1.65" fill="#6FF5D2" stroke="#F2F2F2" stroke-width="0.55"/>
<circle cx="265.35" cy="378.70" r="1.65" fill="#6FF5D2" stroke="#F2F2F2" stroke-width="0.55"/>
<circle cx="269.25" cy="378.70" r="1.65" fill="#6FF5D2" stroke="#F2F2F2" stroke-width="0.55"/>
<circle cx="261.45" cy="387.70" r="1.65" fill="#7DFFDA" stroke="#FFFFFF" stroke-width="0.55"/>
<circle cx="265.35" cy="387.70" r="1.65" fill="#7DFFDA" stroke="#FFFFFF" stroke-width="0.55"/>
<circle cx="269.25" cy="387.70" r="1.65" fill="#7DFFDA" stroke="#FFFFFF" stroke-width="0.55"/>
<circle cx="273.15" cy="387.70" r="1.65" fill="#7DFFDA" stroke="#FFFFFF" stroke-width="0.55"/>
<circle cx="267.30" cy="402.40" r="1.65" fill="#7DFFDA" stroke="#FFFFFF" stroke-width="0.55"/>
<circle cx="265.35" cy="407.60" r="1.65" fill="#7DFFDA" stroke="#FFFFFF" stroke-width="0.55"/>
<circle cx="269.25" cy="407.60" r="1.65" fill="#7DFFDA" stroke="#FFFFFF" stroke-width="0.55"/>
<circle cx="267.30" cy="413.80" r="1.65" fill="#7DFFDA" stroke="#FFFFFF" stroke-width="0.55"/>
<circle cx="263.40" cy="420.00" r="1.65" fill="#7DFFDA" stroke="#FFFFFF" stroke-width="0.55"/>
<circle cx="267.30" cy="420.00" r="1.65" fill="#7DFFDA" stroke="#FFFFFF" stroke-width="0.55"/>
<circle cx="271.20" cy="420.00" r="1.65" fill="#7DFFDA" stroke="#FFFFFF" stroke-width="0.55"/>
<circle cx="267.30" cy="427.00" r="1.65" fill="#6FF5D2" stroke="#F2F2F2" stroke-width="0.55"/>
<circle cx="267.30" cy="432.50" r="1.65" fill="#6FF5D2" stroke="#F2F2F2" stroke-width="0.55"/>
<circle cx="265.35" cy="444.00" r="1.65" fill="#6FF5D2" stroke="#F2F2F2" stroke-width="0.55"/>
<circle cx="269.25" cy="444.00" r="1.65" fill="#6FF5D2" stroke="#F2F2F2" stroke-width="0.55"/>
<circle cx="265.35" cy="449.70" r="1.65" fill="#6FF5D2" stroke="#F2F2F2" stroke-width="0.55"/>
<circle cx="269.25" cy="449.70" r="1.65" fill="#6FF5D2" stroke="#F2F2F2" stroke-width="0.55"/>
<text x="2.00" y="543.80" font-size="27.8" fill="#000" text-anchor="start" >C</text>
<path d="M163.60,552.90 L160.50,566.90 M168.40,552.90 L165.40,566.90 M159.30,557.40 L169.80,557.40 M159.30,562.20 L169.50,562.20" stroke="#5A5A5A" stroke-width="1.35" fill="none"/>
<line x1="52.80" y1="572.30" x2="280.40" y2="572.30" stroke="#666" stroke-width="0.9" />
<rect x="209.30" y="587.40" width="80.40" height="127.10" fill="#F07A52" />
<line x1="47.10" y1="587.60" x2="47.10" y2="716.60" stroke="#B0B0B0" stroke-width="1" />
<line x1="45.60" y1="593.90" x2="47.10" y2="593.90" stroke="#B0B0B0" stroke-width="0.8" />
<text x="44.80" y="598.70" font-size="13.7" fill="#7A7A7A" text-anchor="end" textLength="20.50" lengthAdjust="spacingAndGlyphs">100</text>
<line x1="45.60" y1="622.90" x2="47.10" y2="622.90" stroke="#B0B0B0" stroke-width="0.8" />
<text x="44.80" y="627.70" font-size="13.7" fill="#7A7A7A" text-anchor="end" textLength="13.67" lengthAdjust="spacingAndGlyphs">75</text>
<line x1="45.60" y1="652.10" x2="47.10" y2="652.10" stroke="#B0B0B0" stroke-width="0.8" />
<text x="44.80" y="656.90" font-size="13.7" fill="#7A7A7A" text-anchor="end" textLength="13.67" lengthAdjust="spacingAndGlyphs">50</text>
<line x1="45.60" y1="681.30" x2="47.10" y2="681.30" stroke="#B0B0B0" stroke-width="0.8" />
<text x="44.80" y="686.10" font-size="13.7" fill="#7A7A7A" text-anchor="end" textLength="13.67" lengthAdjust="spacingAndGlyphs">25</text>
<line x1="45.60" y1="710.50" x2="47.10" y2="710.50" stroke="#B0B0B0" stroke-width="0.8" />
<text x="44.80" y="715.30" font-size="13.7" fill="#7A7A7A" text-anchor="end" textLength="6.83" lengthAdjust="spacingAndGlyphs">0</text>
<line x1="47.10" y1="716.10" x2="126.90" y2="716.10" stroke="#B0B0B0" stroke-width="1" />
<line x1="129.20" y1="716.10" x2="208.00" y2="716.10" stroke="#B0B0B0" stroke-width="1" />
<line x1="210.60" y1="716.10" x2="289.50" y2="716.10" stroke="#B0B0B0" stroke-width="1" />
<rect x="53.10" y="640.30" width="31.90" height="70.20" fill="#BEBEBE" />
<line x1="69.05" y1="716.10" x2="69.05" y2="718.20" stroke="#B0B0B0" stroke-width="0.8" />
<text x="67.40" y="672.50" font-size="13.5" fill="#FFFFFF" text-anchor="middle" >60</text>
<rect x="89.20" y="666.70" width="31.80" height="43.80" fill="#7DFFDA" />
<line x1="105.10" y1="716.10" x2="105.10" y2="718.20" stroke="#B0B0B0" stroke-width="0.8" />
<text x="105.30" y="692.00" font-size="13.5" fill="#FFFFFF" text-anchor="middle" >37.5</text>
<rect x="134.60" y="636.00" width="32.10" height="74.50" fill="#BEBEBE" />
<line x1="150.65" y1="716.10" x2="150.65" y2="718.20" stroke="#B0B0B0" stroke-width="0.8" />
<text x="149.70" y="667.00" font-size="13.5" fill="#FFFFFF" text-anchor="middle" >63.3</text>
<rect x="170.30" y="625.20" width="33.00" height="85.30" fill="#7DFFDA" />
<line x1="186.80" y1="716.10" x2="186.80" y2="718.20" stroke="#B0B0B0" stroke-width="0.8" />
<text x="186.40" y="659.10" font-size="13.5" fill="#FFFFFF" text-anchor="middle" >73.1</text>
<rect x="216.20" y="605.70" width="32.50" height="104.80" fill="#BEBEBE" />
<line x1="232.45" y1="716.10" x2="232.45" y2="718.20" stroke="#B0B0B0" stroke-width="0.8" />
<text x="231.10" y="636.00" font-size="13.5" fill="#FFFFFF" text-anchor="middle" >89.5</text>
<rect x="252.20" y="604.40" width="32.50" height="106.10" fill="#7DFFDA" />
<line x1="268.45" y1="716.10" x2="268.45" y2="718.20" stroke="#B0B0B0" stroke-width="0.8" />
<text x="267.10" y="632.10" font-size="13.5" fill="#FFFFFF" text-anchor="middle" >90.5</text>
<text x="0.00" y="0.00" font-size="15.8" fill="#4D4D4D" text-anchor="middle" transform="translate(13.3,653) rotate(-90)">% of success</text>
<text x="93.90" y="737.00" font-size="13.4" fill="#1A1A1A" text-anchor="middle" >larval</text>
<text x="93.90" y="752.20" font-size="13.4" fill="#1A1A1A" text-anchor="middle" >zebrafish</text>
<text x="167.70" y="737.00" font-size="13.4" fill="#1A1A1A" text-anchor="middle" >juvenile</text>
<text x="167.70" y="752.20" font-size="13.4" fill="#1A1A1A" text-anchor="middle" >zebrafish</text>
<text x="249.90" y="737.00" font-size="13.4" fill="#1A1A1A" text-anchor="middle" >juvenile</text>
<text x="249.90" y="752.20" font-size="13.4" fill="#1A1A1A" text-anchor="middle" >paradisefish</text>
<text x="356.80" y="20.80" font-size="27.8" fill="#000" text-anchor="start" >D</text>
<text x="426.00" y="19.70" font-size="14.2" fill="#1A1A1A" text-anchor="start" >group size</text>
<rect x="504.70" y="2.60" width="11.60" height="12.40" fill="#D9D9D9" stroke="#B5B5B5" stroke-width="0.9"/>
<rect x="504.70" y="15.00" width="11.60" height="13.20" fill="#A2FCE4" stroke="#7FFFD4" stroke-width="0.9"/>
<text x="525.20" y="12.60" font-size="12.2" fill="#1A1A1A" text-anchor="start" >1</text>
<text x="525.20" y="26.60" font-size="12.2" fill="#1A1A1A" text-anchor="start" >2</text>
<rect x="436.66" y="130.98" width="6.29" height="88.02" fill="#F0F0F0" stroke="#BBBBBB" stroke-width="0.9"/>
<rect x="442.95" y="101.64" width="6.29" height="117.36" fill="#F0F0F0" stroke="#BBBBBB" stroke-width="0.9"/>
<rect x="449.24" y="189.66" width="6.29" height="29.34" fill="#F0F0F0" stroke="#BBBBBB" stroke-width="0.9"/>
<rect x="455.53" y="160.32" width="6.29" height="58.68" fill="#F0F0F0" stroke="#BBBBBB" stroke-width="0.9"/>
<rect x="461.82" y="72.30" width="6.29" height="146.70" fill="#F0F0F0" stroke="#BBBBBB" stroke-width="0.9"/>
<rect x="468.11" y="189.66" width="6.29" height="29.34" fill="#F0F0F0" stroke="#BBBBBB" stroke-width="0.9"/>
<rect x="474.40" y="130.98" width="6.29" height="88.02" fill="#F0F0F0" stroke="#BBBBBB" stroke-width="0.9"/>
<rect x="480.69" y="160.32" width="6.29" height="58.68" fill="#F0F0F0" stroke="#BBBBBB" stroke-width="0.9"/>
<rect x="486.98" y="160.32" width="6.29" height="58.68" fill="#F0F0F0" stroke="#BBBBBB" stroke-width="0.9"/>
<rect x="493.27" y="72.30" width="6.29" height="146.70" fill="#F0F0F0" stroke="#BBBBBB" stroke-width="0.9"/>
<rect x="499.56" y="189.66" width="6.29" height="29.34" fill="#F0F0F0" stroke="#BBBBBB" stroke-width="0.9"/>
<rect x="505.85" y="160.32" width="6.29" height="58.68" fill="#F0F0F0" stroke="#BBBBBB" stroke-width="0.9"/>
<rect x="512.14" y="189.66" width="6.29" height="29.34" fill="#F0F0F0" stroke="#BBBBBB" stroke-width="0.9"/>
<rect x="518.43" y="189.66" width="6.29" height="29.34" fill="#F0F0F0" stroke="#BBBBBB" stroke-width="0.9"/>
<rect x="524.72" y="189.66" width="6.29" height="29.34" fill="#F0F0F0" stroke="#BBBBBB" stroke-width="0.9"/>
<rect x="531.01" y="189.66" width="6.29" height="29.34" fill="#F0F0F0" stroke="#BBBBBB" stroke-width="0.9"/>
<rect x="537.30" y="160.32" width="6.29" height="58.68" fill="#F0F0F0" stroke="#BBBBBB" stroke-width="0.9"/>
<rect x="543.59" y="160.32" width="6.29" height="58.68" fill="#F0F0F0" stroke="#BBBBBB" stroke-width="0.9"/>
<rect x="549.88" y="160.32" width="6.29" height="58.68" fill="#F0F0F0" stroke="#BBBBBB" stroke-width="0.9"/>
<rect x="556.17" y="189.66" width="6.29" height="29.34" fill="#F0F0F0" stroke="#BBBBBB" stroke-width="0.9"/>
<rect x="562.46" y="189.66" width="6.29" height="29.34" fill="#F0F0F0" stroke="#BBBBBB" stroke-width="0.9"/>
<rect x="575.04" y="130.98" width="6.29" height="88.02" fill="#F0F0F0" stroke="#BBBBBB" stroke-width="0.9"/>
<rect x="593.91" y="160.32" width="6.29" height="58.68" fill="#F0F0F0" stroke="#BBBBBB" stroke-width="0.9"/>
<rect x="600.20" y="189.66" width="6.29" height="29.34" fill="#F0F0F0" stroke="#BBBBBB" stroke-width="0.9"/>
<rect x="436.66" y="186.15" width="6.29" height="32.85" fill="rgba(127,255,212,0.22)" stroke="#7FFFD4" stroke-width="0.9"/>
<rect x="442.95" y="186.15" width="6.29" height="32.85" fill="rgba(127,255,212,0.22)" stroke="#7FFFD4" stroke-width="0.9"/>
<rect x="449.24" y="153.30" width="6.29" height="65.70" fill="rgba(127,255,212,0.22)" stroke="#7FFFD4" stroke-width="0.9"/>
<rect x="455.53" y="186.15" width="6.29" height="32.85" fill="rgba(127,255,212,0.22)" stroke="#7FFFD4" stroke-width="0.9"/>
<rect x="461.82" y="120.45" width="6.29" height="98.55" fill="rgba(127,255,212,0.22)" stroke="#7FFFD4" stroke-width="0.9"/>
<rect x="468.11" y="87.60" width="6.29" height="131.40" fill="rgba(127,255,212,0.22)" stroke="#7FFFD4" stroke-width="0.9"/>
<rect x="474.40" y="186.15" width="6.29" height="32.85" fill="rgba(127,255,212,0.22)" stroke="#7FFFD4" stroke-width="0.9"/>
<rect x="480.69" y="186.15" width="6.29" height="32.85" fill="rgba(127,255,212,0.22)" stroke="#7FFFD4" stroke-width="0.9"/>
<rect x="486.98" y="120.45" width="6.29" height="98.55" fill="rgba(127,255,212,0.22)" stroke="#7FFFD4" stroke-width="0.9"/>
<rect x="493.27" y="153.30" width="6.29" height="65.70" fill="rgba(127,255,212,0.22)" stroke="#7FFFD4" stroke-width="0.9"/>
<rect x="499.56" y="87.60" width="6.29" height="131.40" fill="rgba(127,255,212,0.22)" stroke="#7FFFD4" stroke-width="0.9"/>
<rect x="505.85" y="186.15" width="6.29" height="32.85" fill="rgba(127,255,212,0.22)" stroke="#7FFFD4" stroke-width="0.9"/>
<rect x="512.14" y="186.15" width="6.29" height="32.85" fill="rgba(127,255,212,0.22)" stroke="#7FFFD4" stroke-width="0.9"/>
<rect x="518.43" y="186.15" width="6.29" height="32.85" fill="rgba(127,255,212,0.22)" stroke="#7FFFD4" stroke-width="0.9"/>
<rect x="524.72" y="120.45" width="6.29" height="98.55" fill="rgba(127,255,212,0.22)" stroke="#7FFFD4" stroke-width="0.9"/>
<rect x="531.01" y="120.45" width="6.29" height="98.55" fill="rgba(127,255,212,0.22)" stroke="#7FFFD4" stroke-width="0.9"/>
<rect x="537.30" y="186.15" width="6.29" height="32.85" fill="rgba(127,255,212,0.22)" stroke="#7FFFD4" stroke-width="0.9"/>
<rect x="543.59" y="186.15" width="6.29" height="32.85" fill="rgba(127,255,212,0.22)" stroke="#7FFFD4" stroke-width="0.9"/>
<rect x="549.88" y="153.30" width="6.29" height="65.70" fill="rgba(127,255,212,0.22)" stroke="#7FFFD4" stroke-width="0.9"/>
<rect x="562.46" y="186.15" width="6.29" height="32.85" fill="rgba(127,255,212,0.22)" stroke="#7FFFD4" stroke-width="0.9"/>
<rect x="568.75" y="186.15" width="6.29" height="32.85" fill="rgba(127,255,212,0.22)" stroke="#7FFFD4" stroke-width="0.9"/>
<rect x="575.04" y="153.30" width="6.29" height="65.70" fill="rgba(127,255,212,0.22)" stroke="#7FFFD4" stroke-width="0.9"/>
<rect x="606.49" y="186.15" width="6.29" height="32.85" fill="rgba(127,255,212,0.22)" stroke="#7FFFD4" stroke-width="0.9"/>
<rect x="612.78" y="186.15" width="6.29" height="32.85" fill="rgba(127,255,212,0.22)" stroke="#7FFFD4" stroke-width="0.9"/>
<rect x="619.07" y="153.30" width="6.29" height="65.70" fill="rgba(127,255,212,0.22)" stroke="#7FFFD4" stroke-width="0.9"/>
<path d="M440.00,174.50 C441.53,172.55 445.97,166.53 449.20,162.80 C452.43,159.07 456.35,154.65 459.40,152.10 C462.45,149.55 464.95,148.43 467.50,147.50 C470.05,146.57 471.98,146.42 474.70,146.50 C477.42,146.58 480.70,147.02 483.80,148.00 C486.90,148.98 490.27,150.40 493.30,152.40 C496.33,154.40 498.83,156.95 502.00,160.00 C505.17,163.05 508.47,167.72 512.30,170.70 C516.13,173.68 520.83,176.32 525.00,177.90 C529.17,179.48 533.22,179.43 537.30,180.20 C541.38,180.97 545.42,181.48 549.50,182.50 C553.58,183.52 557.72,184.90 561.80,186.30 C565.88,187.70 569.92,189.50 574.00,190.90 C578.08,192.30 582.20,193.17 586.30,194.70 C590.40,196.23 594.52,197.92 598.60,200.10 C602.68,202.28 606.85,205.55 610.80,207.80 C614.75,210.05 620.38,212.63 622.30,213.60 L622.30,219.00 L440.00,219.00 Z" fill="rgba(150,150,150,0.33)" stroke="none"/>
<path d="M440.00,174.50 C441.53,172.55 445.97,166.53 449.20,162.80 C452.43,159.07 456.35,154.65 459.40,152.10 C462.45,149.55 464.95,148.43 467.50,147.50 C470.05,146.57 471.98,146.42 474.70,146.50 C477.42,146.58 480.70,147.02 483.80,148.00 C486.90,148.98 490.27,150.40 493.30,152.40 C496.33,154.40 498.83,156.95 502.00,160.00 C505.17,163.05 508.47,167.72 512.30,170.70 C516.13,173.68 520.83,176.32 525.00,177.90 C529.17,179.48 533.22,179.43 537.30,180.20 C541.38,180.97 545.42,181.48 549.50,182.50 C553.58,183.52 557.72,184.90 561.80,186.30 C565.88,187.70 569.92,189.50 574.00,190.90 C578.08,192.30 582.20,193.17 586.30,194.70 C590.40,196.23 594.52,197.92 598.60,200.10 C602.68,202.28 606.85,205.55 610.80,207.80 C614.75,210.05 620.38,212.63 622.30,213.60" fill="none" stroke="#A5A5A5" stroke-width="0.9"/>
<path d="M440.00,192.30 C441.53,190.18 445.97,183.85 449.20,179.60 C452.43,175.35 456.35,170.20 459.40,166.80 C462.45,163.40 464.95,161.05 467.50,159.20 C470.05,157.35 471.98,156.63 474.70,155.70 C477.42,154.77 481.25,154.00 483.80,153.60 C486.35,153.20 486.47,152.65 490.00,153.30 C493.53,153.95 499.17,155.52 505.00,157.50 C510.83,159.48 519.62,163.08 525.00,165.20 C530.38,167.32 533.22,168.47 537.30,170.20 C541.38,171.93 545.42,173.55 549.50,175.60 C553.58,177.65 557.72,180.20 561.80,182.50 C565.88,184.80 569.92,187.37 574.00,189.40 C578.08,191.43 582.20,193.17 586.30,194.70 C590.40,196.23 594.52,197.57 598.60,198.60 C602.68,199.63 606.85,200.13 610.80,200.90 C614.75,201.67 620.38,202.82 622.30,203.20 L622.30,219.00 L440.00,219.00 Z" fill="rgba(127,255,212,0.62)" stroke="none"/>
<path d="M440.00,192.30 C441.53,190.18 445.97,183.85 449.20,179.60 C452.43,175.35 456.35,170.20 459.40,166.80 C462.45,163.40 464.95,161.05 467.50,159.20 C470.05,157.35 471.98,156.63 474.70,155.70 C477.42,154.77 481.25,154.00 483.80,153.60 C486.35,153.20 486.47,152.65 490.00,153.30 C493.53,153.95 499.17,155.52 505.00,157.50 C510.83,159.48 519.62,163.08 525.00,165.20 C530.38,167.32 533.22,168.47 537.30,170.20 C541.38,171.93 545.42,173.55 549.50,175.60 C553.58,177.65 557.72,180.20 561.80,182.50 C565.88,184.80 569.92,187.37 574.00,189.40 C578.08,191.43 582.20,193.17 586.30,194.70 C590.40,196.23 594.52,197.57 598.60,198.60 C602.68,199.63 606.85,200.13 610.80,200.90 C614.75,201.67 620.38,202.82 622.30,203.20" fill="none" stroke="#7FFFD4" stroke-width="0.9"/>
<line x1="427.40" y1="64.40" x2="427.40" y2="227.00" stroke="#1F1F1F" stroke-width="1.1" />
<line x1="426.90" y1="226.50" x2="633.50" y2="226.50" stroke="#1F1F1F" stroke-width="1.1" />
<line x1="424.80" y1="76.20" x2="427.40" y2="76.20" stroke="#1F1F1F" stroke-width="0.9" />
<text x="423.00" y="80.90" font-size="12.3" fill="#4D4D4D" text-anchor="end" >3</text>
<line x1="424.80" y1="123.80" x2="427.40" y2="123.80" stroke="#1F1F1F" stroke-width="0.9" />
<text x="423.00" y="128.50" font-size="12.3" fill="#4D4D4D" text-anchor="end" >2</text>
<line x1="424.80" y1="171.40" x2="427.40" y2="171.40" stroke="#1F1F1F" stroke-width="0.9" />
<text x="423.00" y="176.10" font-size="12.3" fill="#4D4D4D" text-anchor="end" >1</text>
<line x1="424.80" y1="219.00" x2="427.40" y2="219.00" stroke="#1F1F1F" stroke-width="0.9" />
<text x="423.00" y="223.70" font-size="12.3" fill="#4D4D4D" text-anchor="end" >0</text>
<line x1="439.80" y1="226.50" x2="439.80" y2="229.10" stroke="#1F1F1F" stroke-width="0.9" />
<text x="439.80" y="240.00" font-size="12.2" fill="#4D4D4D" text-anchor="middle" >0.00</text>
<line x1="485.40" y1="226.50" x2="485.40" y2="229.10" stroke="#1F1F1F" stroke-width="0.9" />
<text x="485.40" y="240.00" font-size="12.2" fill="#4D4D4D" text-anchor="middle" >0.25</text>
<line x1="531.00" y1="226.50" x2="531.00" y2="229.10" stroke="#1F1F1F" stroke-width="0.9" />
<text x="531.00" y="240.00" font-size="12.2" fill="#4D4D4D" text-anchor="middle" >0.50</text>
<line x1="576.60" y1="226.50" x2="576.60" y2="229.10" stroke="#1F1F1F" stroke-width="0.9" />
<text x="576.60" y="240.00" font-size="12.2" fill="#4D4D4D" text-anchor="middle" >0.75</text>
<line x1="622.20" y1="226.50" x2="622.20" y2="229.10" stroke="#1F1F1F" stroke-width="0.9" />
<text x="622.20" y="240.00" font-size="12.2" fill="#4D4D4D" text-anchor="middle" >1.00</text>
<text x="530.50" y="255.20" font-size="15.6" fill="#1A1A1A" text-anchor="middle" >mean exploration latency</text>
<text x="0.00" y="0.00" font-size="15.6" fill="#1A1A1A" text-anchor="middle" transform="translate(410.3,145.3) rotate(-90)">density</text>
<text x="0.00" y="0.00" font-size="13.3" fill="#1A1A1A" text-anchor="middle" transform="translate(361.0,149.3) rotate(-90)">larval</text>
<text x="0.00" y="0.00" font-size="13.3" fill="#1A1A1A" text-anchor="middle" transform="translate(377.8,149.3) rotate(-90)">zebrafish</text>
<g transform="translate(350.60,99.30) scale(0.8431,0.8896)"><path d="M0,6.8 L11.6,8 L12.2,3.9 L18.6,1.9 L25.7,0.3 L32.8,0 L36.6,0.7 L37.6,2.3 L35.3,4.5 L28.9,8 L23.8,10.3 L21.2,11.3 L19.3,12.8 L12.2,12.5 L11.6,10.6 L4.2,15.4 L2.5,10 Z" fill="#EFEFEF" stroke="#B3B3B3" stroke-width="0.7" stroke-linejoin="round"/><path d="M12.2,4 L19,2 L19.3,12.8 L12.2,12.5 Z" fill="#DADADA" stroke="none"/><path d="M12.5,6.2 L35,2.4" stroke="#B3B3B3" stroke-width="0.55" fill="none"/><path d="M12.5,9 L30,6.2" stroke="#B3B3B3" stroke-width="0.55" fill="none"/><path d="M20,2 L23,9.5" stroke="#B3B3B3" stroke-width="0.55" fill="none"/><path d="M24,1 L27,8.3" stroke="#B3B3B3" stroke-width="0.55" fill="none"/><path d="M28,0.4 L31,6.4" stroke="#B3B3B3" stroke-width="0.55" fill="none"/><path d="M33.2,0.4 L33.6,4.6" stroke="#B3B3B3" stroke-width="0.55" fill="none"/><path d="M3,8.2 L11.4,9.2" stroke="#B3B3B3" stroke-width="0.55" fill="none"/><path d="M4.5,12.3 L11.3,10" stroke="#B3B3B3" stroke-width="0.55" fill="none"/><path d="M14,10.5 L21,10.8" stroke="#B3B3B3" stroke-width="0.55" fill="none"/><path d="M14.5,4.5 L14.5,12" stroke="#B3B3B3" stroke-width="0.55" fill="none"/><circle cx="34.4" cy="2.3" r="0.8" fill="#8A8A8A"/></g>
<text x="583.40" y="21.04" font-size="12.4" fill="#4A4A4A" text-anchor="end" >2</text>
<text x="583.40" y="46.29" font-size="12.4" fill="#4A4A4A" text-anchor="end" >1</text>
<text x="583.40" y="71.54" font-size="12.4" fill="#4A4A4A" text-anchor="end" >0</text>
<text x="583.40" y="96.79" font-size="12.4" fill="#4A4A4A" text-anchor="end" >-1</text>
<text x="583.40" y="122.04" font-size="12.4" fill="#4A4A4A" text-anchor="end" >-2</text>
<line x1="593.90" y1="67.20" x2="676.40" y2="67.20" stroke="#D4D4D4" stroke-width="0.8" />
<text x="607.50" y="85.70" font-size="11.6" fill="#4A4A4A" text-anchor="middle" >1</text>
<text x="635.10" y="85.70" font-size="11.6" fill="#4A4A4A" text-anchor="middle" >2</text>
<text x="662.70" y="85.70" font-size="11.6" fill="#4A4A4A" text-anchor="middle" >3</text>
<polyline points="607.50,75.90 635.10,38.90 662.70,87.50" fill="none" stroke="#BEBEBE" stroke-width="2.3000000000000003" stroke-linejoin="round"/>
<polyline points="607.50,51.20 635.10,55.00 662.70,96.60" fill="none" stroke="#7FFFD4" stroke-width="2.2" stroke-linejoin="round"/>
<text x="0.00" y="0.00" font-size="9.2" fill="#4D4D4D" text-anchor="middle" transform="translate(567.30,67.40) rotate(-90)">normalised BIC</text>
<text x="638.90" y="126.10" font-size="9.5" fill="#555" text-anchor="middle" >Assumed number of</text>
<text x="638.30" y="136.40" font-size="9.4" fill="#555" text-anchor="middle" >gaussian distributions</text>
<rect x="436.66" y="444.70" width="6.29" height="32.60" fill="#F0F0F0" stroke="#BBBBBB" stroke-width="0.9"/>
<rect x="442.95" y="412.10" width="6.29" height="65.20" fill="#F0F0F0" stroke="#BBBBBB" stroke-width="0.9"/>
<rect x="449.24" y="412.10" width="6.29" height="65.20" fill="#F0F0F0" stroke="#BBBBBB" stroke-width="0.9"/>
<rect x="455.53" y="412.10" width="6.29" height="65.20" fill="#F0F0F0" stroke="#BBBBBB" stroke-width="0.9"/>
<rect x="461.82" y="412.10" width="6.29" height="65.20" fill="#F0F0F0" stroke="#BBBBBB" stroke-width="0.9"/>
<rect x="468.11" y="444.70" width="6.29" height="32.60" fill="#F0F0F0" stroke="#BBBBBB" stroke-width="0.9"/>
<rect x="474.40" y="444.70" width="6.29" height="32.60" fill="#F0F0F0" stroke="#BBBBBB" stroke-width="0.9"/>
<rect x="480.69" y="444.70" width="6.29" height="32.60" fill="#F0F0F0" stroke="#BBBBBB" stroke-width="0.9"/>
<rect x="486.98" y="444.70" width="6.29" height="32.60" fill="#F0F0F0" stroke="#BBBBBB" stroke-width="0.9"/>
<rect x="493.27" y="412.10" width="6.29" height="65.20" fill="#F0F0F0" stroke="#BBBBBB" stroke-width="0.9"/>
<rect x="499.56" y="444.70" width="6.29" height="32.60" fill="#F0F0F0" stroke="#BBBBBB" stroke-width="0.9"/>
<rect x="505.85" y="412.10" width="6.29" height="65.20" fill="#F0F0F0" stroke="#BBBBBB" stroke-width="0.9"/>
<rect x="512.14" y="444.70" width="6.29" height="32.60" fill="#F0F0F0" stroke="#BBBBBB" stroke-width="0.9"/>
<rect x="518.43" y="444.70" width="6.29" height="32.60" fill="#F0F0F0" stroke="#BBBBBB" stroke-width="0.9"/>
<rect x="524.72" y="444.70" width="6.29" height="32.60" fill="#F0F0F0" stroke="#BBBBBB" stroke-width="0.9"/>
<rect x="531.01" y="444.70" width="6.29" height="32.60" fill="#F0F0F0" stroke="#BBBBBB" stroke-width="0.9"/>
<rect x="537.30" y="412.10" width="6.29" height="65.20" fill="#F0F0F0" stroke="#BBBBBB" stroke-width="0.9"/>
<rect x="543.59" y="412.10" width="6.29" height="65.20" fill="#F0F0F0" stroke="#BBBBBB" stroke-width="0.9"/>
<rect x="549.88" y="444.70" width="6.29" height="32.60" fill="#F0F0F0" stroke="#BBBBBB" stroke-width="0.9"/>
<rect x="568.75" y="444.70" width="6.29" height="32.60" fill="#F0F0F0" stroke="#BBBBBB" stroke-width="0.9"/>
<rect x="575.04" y="444.70" width="6.29" height="32.60" fill="#F0F0F0" stroke="#BBBBBB" stroke-width="0.9"/>
<rect x="436.66" y="403.50" width="6.29" height="73.80" fill="rgba(127,255,212,0.22)" stroke="#7FFFD4" stroke-width="0.9"/>
<rect x="442.95" y="329.70" width="6.29" height="147.60" fill="rgba(127,255,212,0.22)" stroke="#7FFFD4" stroke-width="0.9"/>
<rect x="449.24" y="403.50" width="6.29" height="73.80" fill="rgba(127,255,212,0.22)" stroke="#7FFFD4" stroke-width="0.9"/>
<rect x="455.53" y="366.60" width="6.29" height="110.70" fill="rgba(127,255,212,0.22)" stroke="#7FFFD4" stroke-width="0.9"/>
<rect x="461.82" y="403.50" width="6.29" height="73.80" fill="rgba(127,255,212,0.22)" stroke="#7FFFD4" stroke-width="0.9"/>
<rect x="474.40" y="440.40" width="6.29" height="36.90" fill="rgba(127,255,212,0.22)" stroke="#7FFFD4" stroke-width="0.9"/>
<rect x="480.69" y="440.40" width="6.29" height="36.90" fill="rgba(127,255,212,0.22)" stroke="#7FFFD4" stroke-width="0.9"/>
<rect x="493.27" y="440.40" width="6.29" height="36.90" fill="rgba(127,255,212,0.22)" stroke="#7FFFD4" stroke-width="0.9"/>
<rect x="524.72" y="440.40" width="6.29" height="36.90" fill="rgba(127,255,212,0.22)" stroke="#7FFFD4" stroke-width="0.9"/>
<rect x="531.01" y="440.40" width="6.29" height="36.90" fill="rgba(127,255,212,0.22)" stroke="#7FFFD4" stroke-width="0.9"/>
<rect x="537.30" y="440.40" width="6.29" height="36.90" fill="rgba(127,255,212,0.22)" stroke="#7FFFD4" stroke-width="0.9"/>
<rect x="549.88" y="403.50" width="6.29" height="73.80" fill="rgba(127,255,212,0.22)" stroke="#7FFFD4" stroke-width="0.9"/>
<rect x="581.33" y="440.40" width="6.29" height="36.90" fill="rgba(127,255,212,0.22)" stroke="#7FFFD4" stroke-width="0.9"/>
<rect x="619.07" y="440.40" width="6.29" height="36.90" fill="rgba(127,255,212,0.22)" stroke="#7FFFD4" stroke-width="0.9"/>
<path d="M440.00,451.90 C442.32,450.45 449.15,445.38 453.90,443.20 C458.65,441.02 462.90,439.78 468.50,438.80 C474.10,437.82 481.92,437.60 487.50,437.30 C493.08,437.00 496.65,436.75 502.00,437.00 C507.35,437.25 514.60,438.20 519.60,438.80 C524.60,439.40 527.02,439.73 532.00,440.60 C536.98,441.47 544.50,442.15 549.50,444.00 C554.50,445.85 557.92,448.88 562.00,451.70 C566.08,454.52 570.00,458.22 574.00,460.90 C578.00,463.58 581.90,465.88 586.00,467.80 C590.10,469.72 594.43,471.12 598.60,472.40 C602.77,473.68 607.10,474.82 611.00,475.50 C614.90,476.18 620.17,476.33 622.00,476.50 L622.00,477.30 L440.00,477.30 Z" fill="rgba(150,150,150,0.33)" stroke="none"/>
<path d="M440.00,451.90 C442.32,450.45 449.15,445.38 453.90,443.20 C458.65,441.02 462.90,439.78 468.50,438.80 C474.10,437.82 481.92,437.60 487.50,437.30 C493.08,437.00 496.65,436.75 502.00,437.00 C507.35,437.25 514.60,438.20 519.60,438.80 C524.60,439.40 527.02,439.73 532.00,440.60 C536.98,441.47 544.50,442.15 549.50,444.00 C554.50,445.85 557.92,448.88 562.00,451.70 C566.08,454.52 570.00,458.22 574.00,460.90 C578.00,463.58 581.90,465.88 586.00,467.80 C590.10,469.72 594.43,471.12 598.60,472.40 C602.77,473.68 607.10,474.82 611.00,475.50 C614.90,476.18 620.17,476.33 622.00,476.50" fill="none" stroke="#A5A5A5" stroke-width="0.9"/>
<path d="M440.00,434.40 C441.10,433.55 443.92,430.68 446.60,429.30 C449.28,427.92 452.93,426.35 456.10,426.10 C459.27,425.85 462.32,426.30 465.60,427.80 C468.88,429.30 472.15,432.30 475.80,435.10 C479.45,437.90 484.58,442.03 487.50,444.60 C490.42,447.17 490.88,448.78 493.30,450.50 C495.72,452.22 498.83,453.93 502.00,454.90 C505.17,455.87 507.30,455.95 512.30,456.30 C517.30,456.65 525.80,456.75 532.00,457.00 C538.20,457.25 544.50,457.28 549.50,457.80 C554.50,458.32 557.92,458.95 562.00,460.10 C566.08,461.25 570.00,463.33 574.00,464.70 C578.00,466.07 581.90,467.32 586.00,468.30 C590.10,469.28 594.43,469.97 598.60,470.60 C602.77,471.23 607.10,471.72 611.00,472.10 C614.90,472.48 620.17,472.77 622.00,472.90 L622.00,477.30 L440.00,477.30 Z" fill="rgba(127,255,212,0.62)" stroke="none"/>
<path d="M440.00,434.40 C441.10,433.55 443.92,430.68 446.60,429.30 C449.28,427.92 452.93,426.35 456.10,426.10 C459.27,425.85 462.32,426.30 465.60,427.80 C468.88,429.30 472.15,432.30 475.80,435.10 C479.45,437.90 484.58,442.03 487.50,444.60 C490.42,447.17 490.88,448.78 493.30,450.50 C495.72,452.22 498.83,453.93 502.00,454.90 C505.17,455.87 507.30,455.95 512.30,456.30 C517.30,456.65 525.80,456.75 532.00,457.00 C538.20,457.25 544.50,457.28 549.50,457.80 C554.50,458.32 557.92,458.95 562.00,460.10 C566.08,461.25 570.00,463.33 574.00,464.70 C578.00,466.07 581.90,467.32 586.00,468.30 C590.10,469.28 594.43,469.97 598.60,470.60 C602.77,471.23 607.10,471.72 611.00,472.10 C614.90,472.48 620.17,472.77 622.00,472.90" fill="none" stroke="#7FFFD4" stroke-width="0.9"/>
<line x1="427.40" y1="322.50" x2="427.40" y2="484.60" stroke="#1F1F1F" stroke-width="1.1" />
<line x1="426.90" y1="484.10" x2="633.50" y2="484.10" stroke="#1F1F1F" stroke-width="1.1" />
<line x1="424.80" y1="477.30" x2="427.40" y2="477.30" stroke="#1F1F1F" stroke-width="0.9" />
<text x="423.00" y="482.00" font-size="12.3" fill="#4D4D4D" text-anchor="end" >0</text>
<line x1="424.80" y1="448.10" x2="427.40" y2="448.10" stroke="#1F1F1F" stroke-width="0.9" />
<text x="423.00" y="452.80" font-size="12.3" fill="#4D4D4D" text-anchor="end" >1</text>
<line x1="424.80" y1="418.90" x2="427.40" y2="418.90" stroke="#1F1F1F" stroke-width="0.9" />
<text x="423.00" y="423.60" font-size="12.3" fill="#4D4D4D" text-anchor="end" >2</text>
<line x1="424.80" y1="389.70" x2="427.40" y2="389.70" stroke="#1F1F1F" stroke-width="0.9" />
<text x="423.00" y="394.40" font-size="12.3" fill="#4D4D4D" text-anchor="end" >3</text>
<line x1="424.80" y1="360.50" x2="427.40" y2="360.50" stroke="#1F1F1F" stroke-width="0.9" />
<text x="423.00" y="365.20" font-size="12.3" fill="#4D4D4D" text-anchor="end" >4</text>
<line x1="424.80" y1="331.30" x2="427.40" y2="331.30" stroke="#1F1F1F" stroke-width="0.9" />
<text x="423.00" y="336.00" font-size="12.3" fill="#4D4D4D" text-anchor="end" >5</text>
<line x1="439.80" y1="484.10" x2="439.80" y2="486.70" stroke="#1F1F1F" stroke-width="0.9" />
<text x="439.80" y="497.40" font-size="12.2" fill="#4D4D4D" text-anchor="middle" >0.00</text>
<line x1="485.40" y1="484.10" x2="485.40" y2="486.70" stroke="#1F1F1F" stroke-width="0.9" />
<text x="485.40" y="497.40" font-size="12.2" fill="#4D4D4D" text-anchor="middle" >0.25</text>
<line x1="531.00" y1="484.10" x2="531.00" y2="486.70" stroke="#1F1F1F" stroke-width="0.9" />
<text x="531.00" y="497.40" font-size="12.2" fill="#4D4D4D" text-anchor="middle" >0.50</text>
<line x1="576.60" y1="484.10" x2="576.60" y2="486.70" stroke="#1F1F1F" stroke-width="0.9" />
<text x="576.60" y="497.40" font-size="12.2" fill="#4D4D4D" text-anchor="middle" >0.75</text>
<line x1="622.20" y1="484.10" x2="622.20" y2="486.70" stroke="#1F1F1F" stroke-width="0.9" />
<text x="622.20" y="497.40" font-size="12.2" fill="#4D4D4D" text-anchor="middle" >1.00</text>
<text x="530.50" y="513.00" font-size="15.6" fill="#1A1A1A" text-anchor="middle" >mean exploration latency</text>
<text x="0.00" y="0.00" font-size="15.6" fill="#1A1A1A" text-anchor="middle" transform="translate(410.3,403.5) rotate(-90)">density</text>
<text x="0.00" y="0.00" font-size="13.3" fill="#1A1A1A" text-anchor="middle" transform="translate(360.8,406.0) rotate(-90)">juvenile</text>
<text x="0.00" y="0.00" font-size="13.3" fill="#1A1A1A" text-anchor="middle" transform="translate(378.0,406.0) rotate(-90)">zebrafish</text>
<g transform="translate(347.20,352.70) scale(1.0053,1.0325)"><path d="M0,6.8 L11.6,8 L12.2,3.9 L18.6,1.9 L25.7,0.3 L32.8,0 L36.6,0.7 L37.6,2.3 L35.3,4.5 L28.9,8 L23.8,10.3 L21.2,11.3 L19.3,12.8 L12.2,12.5 L11.6,10.6 L4.2,15.4 L2.5,10 Z" fill="#EFEFEF" stroke="#B3B3B3" stroke-width="0.7" stroke-linejoin="round"/><path d="M12.2,4 L19,2 L19.3,12.8 L12.2,12.5 Z" fill="#DADADA" stroke="none"/><path d="M12.5,6.2 L35,2.4" stroke="#B3B3B3" stroke-width="0.55" fill="none"/><path d="M12.5,9 L30,6.2" stroke="#B3B3B3" stroke-width="0.55" fill="none"/><path d="M20,2 L23,9.5" stroke="#B3B3B3" stroke-width="0.55" fill="none"/><path d="M24,1 L27,8.3" stroke="#B3B3B3" stroke-width="0.55" fill="none"/><path d="M28,0.4 L31,6.4" stroke="#B3B3B3" stroke-width="0.55" fill="none"/><path d="M33.2,0.4 L33.6,4.6" stroke="#B3B3B3" stroke-width="0.55" fill="none"/><path d="M3,8.2 L11.4,9.2" stroke="#B3B3B3" stroke-width="0.55" fill="none"/><path d="M4.5,12.3 L11.3,10" stroke="#B3B3B3" stroke-width="0.55" fill="none"/><path d="M14,10.5 L21,10.8" stroke="#B3B3B3" stroke-width="0.55" fill="none"/><path d="M14.5,4.5 L14.5,12" stroke="#B3B3B3" stroke-width="0.55" fill="none"/><circle cx="34.4" cy="2.3" r="0.8" fill="#8A8A8A"/></g>
<text x="589.90" y="291.16" font-size="11.6" fill="#4A4A4A" text-anchor="end" >2</text>
<text x="589.90" y="316.26" font-size="11.6" fill="#4A4A4A" text-anchor="end" >1</text>
<text x="589.90" y="341.36" font-size="11.6" fill="#4A4A4A" text-anchor="end" >0</text>
<text x="589.90" y="366.46" font-size="11.6" fill="#4A4A4A" text-anchor="end" >-1</text>
<text x="589.90" y="391.56" font-size="11.6" fill="#4A4A4A" text-anchor="end" >-2</text>
<line x1="600.70" y1="337.30" x2="674.20" y2="337.30" stroke="#D4D4D4" stroke-width="0.8" />
<text x="612.90" y="355.60" font-size="11.6" fill="#4A4A4A" text-anchor="middle" >1</text>
<text x="637.30" y="355.60" font-size="11.6" fill="#4A4A4A" text-anchor="middle" >2</text>
<text x="661.60" y="355.60" font-size="11.6" fill="#4A4A4A" text-anchor="middle" >3</text>
<polyline points="612.90,313.60 637.30,334.70 661.60,363.20" fill="none" stroke="#BEBEBE" stroke-width="2.3000000000000003" stroke-linejoin="round"/>
<polyline points="612.90,346.90 637.30,308.50 661.60,355.90" fill="none" stroke="#7FFFD4" stroke-width="2.2" stroke-linejoin="round"/>
<text x="0.00" y="0.00" font-size="9.2" fill="#4D4D4D" text-anchor="middle" transform="translate(574.00,337.60) rotate(-90)">normalised BIC</text>
<text x="638.80" y="393.60" font-size="9.5" fill="#555" text-anchor="middle" >Assumed umber of</text>
<text x="639.10" y="403.80" font-size="9.4" fill="#555" text-anchor="middle" >gaussian distributions</text>
<rect x="436.30" y="675.00" width="6.33" height="36.80" fill="#F0F0F0" stroke="#BBBBBB" stroke-width="0.9"/>
<rect x="442.63" y="638.20" width="6.33" height="73.60" fill="#F0F0F0" stroke="#BBBBBB" stroke-width="0.9"/>
<rect x="455.29" y="675.00" width="6.33" height="36.80" fill="#F0F0F0" stroke="#BBBBBB" stroke-width="0.9"/>
<rect x="461.62" y="675.00" width="6.33" height="36.80" fill="#F0F0F0" stroke="#BBBBBB" stroke-width="0.9"/>
<rect x="480.61" y="675.00" width="6.33" height="36.80" fill="#F0F0F0" stroke="#BBBBBB" stroke-width="0.9"/>
<rect x="493.27" y="564.60" width="6.33" height="147.20" fill="#F0F0F0" stroke="#BBBBBB" stroke-width="0.9"/>
<rect x="531.25" y="638.20" width="6.33" height="73.60" fill="#F0F0F0" stroke="#BBBBBB" stroke-width="0.9"/>
<rect x="543.91" y="601.40" width="6.33" height="110.40" fill="#F0F0F0" stroke="#BBBBBB" stroke-width="0.9"/>
<rect x="562.90" y="675.00" width="6.33" height="36.80" fill="#F0F0F0" stroke="#BBBBBB" stroke-width="0.9"/>
<rect x="569.23" y="675.00" width="6.33" height="36.80" fill="#F0F0F0" stroke="#BBBBBB" stroke-width="0.9"/>
<rect x="575.56" y="675.00" width="6.33" height="36.80" fill="#F0F0F0" stroke="#BBBBBB" stroke-width="0.9"/>
<rect x="588.22" y="675.00" width="6.33" height="36.80" fill="#F0F0F0" stroke="#BBBBBB" stroke-width="0.9"/>
<rect x="619.87" y="675.00" width="6.33" height="36.80" fill="#F0F0F0" stroke="#BBBBBB" stroke-width="0.9"/>
<rect x="455.29" y="679.70" width="6.33" height="32.10" fill="rgba(127,255,212,0.22)" stroke="#7FFFD4" stroke-width="0.9"/>
<rect x="461.62" y="679.70" width="6.33" height="32.10" fill="rgba(127,255,212,0.22)" stroke="#7FFFD4" stroke-width="0.9"/>
<rect x="467.95" y="647.60" width="6.33" height="64.20" fill="rgba(127,255,212,0.22)" stroke="#7FFFD4" stroke-width="0.9"/>
<rect x="486.94" y="679.70" width="6.33" height="32.10" fill="rgba(127,255,212,0.22)" stroke="#7FFFD4" stroke-width="0.9"/>
<rect x="499.60" y="647.60" width="6.33" height="64.20" fill="rgba(127,255,212,0.22)" stroke="#7FFFD4" stroke-width="0.9"/>
<rect x="505.93" y="679.70" width="6.33" height="32.10" fill="rgba(127,255,212,0.22)" stroke="#7FFFD4" stroke-width="0.9"/>
<rect x="512.26" y="647.60" width="6.33" height="64.20" fill="rgba(127,255,212,0.22)" stroke="#7FFFD4" stroke-width="0.9"/>
<rect x="518.59" y="679.70" width="6.33" height="32.10" fill="rgba(127,255,212,0.22)" stroke="#7FFFD4" stroke-width="0.9"/>
<rect x="524.92" y="679.70" width="6.33" height="32.10" fill="rgba(127,255,212,0.22)" stroke="#7FFFD4" stroke-width="0.9"/>
<rect x="537.58" y="679.70" width="6.33" height="32.10" fill="rgba(127,255,212,0.22)" stroke="#7FFFD4" stroke-width="0.9"/>
<rect x="543.91" y="615.50" width="6.33" height="96.30" fill="rgba(127,255,212,0.22)" stroke="#7FFFD4" stroke-width="0.9"/>
<rect x="550.24" y="679.70" width="6.33" height="32.10" fill="rgba(127,255,212,0.22)" stroke="#7FFFD4" stroke-width="0.9"/>
<rect x="556.57" y="647.60" width="6.33" height="64.20" fill="rgba(127,255,212,0.22)" stroke="#7FFFD4" stroke-width="0.9"/>
<rect x="569.23" y="679.70" width="6.33" height="32.10" fill="rgba(127,255,212,0.22)" stroke="#7FFFD4" stroke-width="0.9"/>
<rect x="581.89" y="679.70" width="6.33" height="32.10" fill="rgba(127,255,212,0.22)" stroke="#7FFFD4" stroke-width="0.9"/>
<rect x="600.88" y="647.60" width="6.33" height="64.20" fill="rgba(127,255,212,0.22)" stroke="#7FFFD4" stroke-width="0.9"/>
<path d="M437.00,695.00 C438.00,694.38 440.00,692.65 443.00,691.30 C446.00,689.95 450.50,688.32 455.00,686.90 C459.50,685.48 464.67,683.88 470.00,682.80 C475.33,681.72 482.00,680.80 487.00,680.40 C492.00,680.00 494.83,680.03 500.00,680.40 C505.17,680.77 513.33,682.00 518.00,682.60 C522.67,683.20 524.33,683.88 528.00,684.00 C531.67,684.12 535.50,683.28 540.00,683.30 C544.50,683.32 550.00,683.13 555.00,684.10 C560.00,685.07 565.00,687.32 570.00,689.10 C575.00,690.88 580.00,693.15 585.00,694.80 C590.00,696.45 595.50,697.75 600.00,699.00 C604.50,700.25 608.67,701.55 612.00,702.30 C615.33,703.05 618.67,703.30 620.00,703.50 L620.00,711.80 L437.00,711.80 Z" fill="rgba(150,150,150,0.33)" stroke="none"/>
<path d="M437.00,695.00 C438.00,694.38 440.00,692.65 443.00,691.30 C446.00,689.95 450.50,688.32 455.00,686.90 C459.50,685.48 464.67,683.88 470.00,682.80 C475.33,681.72 482.00,680.80 487.00,680.40 C492.00,680.00 494.83,680.03 500.00,680.40 C505.17,680.77 513.33,682.00 518.00,682.60 C522.67,683.20 524.33,683.88 528.00,684.00 C531.67,684.12 535.50,683.28 540.00,683.30 C544.50,683.32 550.00,683.13 555.00,684.10 C560.00,685.07 565.00,687.32 570.00,689.10 C575.00,690.88 580.00,693.15 585.00,694.80 C590.00,696.45 595.50,697.75 600.00,699.00 C604.50,700.25 608.67,701.55 612.00,702.30 C615.33,703.05 618.67,703.30 620.00,703.50" fill="none" stroke="#A5A5A5" stroke-width="0.9"/>
<path d="M437.00,705.80 C439.00,704.50 444.92,700.63 449.00,698.00 C453.08,695.37 456.33,692.53 461.50,690.00 C466.67,687.47 474.42,684.90 480.00,682.80 C485.58,680.70 490.00,678.53 495.00,677.40 C500.00,676.27 504.50,676.27 510.00,676.00 C515.50,675.73 522.17,675.68 528.00,675.80 C533.83,675.92 540.50,676.00 545.00,676.70 C549.50,677.40 550.83,678.22 555.00,680.00 C559.17,681.78 565.00,685.07 570.00,687.40 C575.00,689.73 580.00,692.07 585.00,694.00 C590.00,695.93 594.17,697.35 600.00,699.00 C605.83,700.65 616.67,703.08 620.00,703.90 L620.00,711.80 L437.00,711.80 Z" fill="rgba(127,255,212,0.62)" stroke="none"/>
<path d="M437.00,705.80 C439.00,704.50 444.92,700.63 449.00,698.00 C453.08,695.37 456.33,692.53 461.50,690.00 C466.67,687.47 474.42,684.90 480.00,682.80 C485.58,680.70 490.00,678.53 495.00,677.40 C500.00,676.27 504.50,676.27 510.00,676.00 C515.50,675.73 522.17,675.68 528.00,675.80 C533.83,675.92 540.50,676.00 545.00,676.70 C549.50,677.40 550.83,678.22 555.00,680.00 C559.17,681.78 565.00,685.07 570.00,687.40 C575.00,689.73 580.00,692.07 585.00,694.00 C590.00,695.93 594.17,697.35 600.00,699.00 C605.83,700.65 616.67,703.08 620.00,703.90" fill="none" stroke="#7FFFD4" stroke-width="0.9"/>
<line x1="427.40" y1="557.40" x2="427.40" y2="719.80" stroke="#1F1F1F" stroke-width="1.1" />
<line x1="426.90" y1="719.30" x2="633.50" y2="719.30" stroke="#1F1F1F" stroke-width="1.1" />
<line x1="424.80" y1="711.80" x2="427.40" y2="711.80" stroke="#1F1F1F" stroke-width="0.9" />
<text x="423.00" y="716.50" font-size="12.3" fill="#4D4D4D" text-anchor="end" >0</text>
<line x1="424.80" y1="659.60" x2="427.40" y2="659.60" stroke="#1F1F1F" stroke-width="0.9" />
<text x="423.00" y="664.30" font-size="12.3" fill="#4D4D4D" text-anchor="end" >2</text>
<line x1="424.80" y1="607.40" x2="427.40" y2="607.40" stroke="#1F1F1F" stroke-width="0.9" />
<text x="423.00" y="612.10" font-size="12.3" fill="#4D4D4D" text-anchor="end" >4</text>
<line x1="433.50" y1="719.30" x2="433.50" y2="721.90" stroke="#1F1F1F" stroke-width="0.9" />
<text x="433.50" y="732.20" font-size="12.2" fill="#4D4D4D" text-anchor="middle" >0.00</text>
<line x1="480.33" y1="719.30" x2="480.33" y2="721.90" stroke="#1F1F1F" stroke-width="0.9" />
<text x="480.33" y="732.20" font-size="12.2" fill="#4D4D4D" text-anchor="middle" >0.25</text>
<line x1="527.16" y1="719.30" x2="527.16" y2="721.90" stroke="#1F1F1F" stroke-width="0.9" />
<text x="527.16" y="732.20" font-size="12.2" fill="#4D4D4D" text-anchor="middle" >0.50</text>
<line x1="573.99" y1="719.30" x2="573.99" y2="721.90" stroke="#1F1F1F" stroke-width="0.9" />
<text x="573.99" y="732.20" font-size="12.2" fill="#4D4D4D" text-anchor="middle" >0.75</text>
<line x1="620.82" y1="719.30" x2="620.82" y2="721.90" stroke="#1F1F1F" stroke-width="0.9" />
<text x="620.82" y="732.20" font-size="12.2" fill="#4D4D4D" text-anchor="middle" >1.00</text>
<text x="530.50" y="747.80" font-size="15.6" fill="#1A1A1A" text-anchor="middle" >mean exploration latency</text>
<text x="0.00" y="0.00" font-size="15.6" fill="#1A1A1A" text-anchor="middle" transform="translate(410.5,638.1) rotate(-90)">density</text>
<text x="0.00" y="0.00" font-size="13.3" fill="#1A1A1A" text-anchor="middle" transform="translate(361.5,637.6) rotate(-90)">juvenile</text>
<text x="0.00" y="0.00" font-size="13.3" fill="#1A1A1A" text-anchor="middle" transform="translate(377.8,637.0) rotate(-90)">paradisefish</text>
<g transform="translate(335.30,560.70) scale(1.0000,1.0000)"><path d="M13,0.6 C18,0.1 26,-0.2 32,0.2 L37.2,1.0 L36,3.2 L24,5.0 L17.5,6.8 Z" fill="#EC8B4C"/><path d="M14,23.1 L16.9,15.2 L42,15.2 L40,19.3 L28.4,20.8 L20,22.5 Z" fill="#EC8B4C"/><path d="M34.5,23.8 L40,18.5 M36.5,24.2 L41,19 M33.5,22.2 L39,18" stroke="#EC8B4C" stroke-width="0.9" fill="none"/><path d="M0,3.4 L13,1.4 L17,4 L17,16 L14,23.1 L3.9,22.2 C6.5,19 8.2,15 8.4,12.2 C8,8.5 4.5,5.2 0,3.4 Z" fill="#F6E3D1"/><path d="M8.6,4.2 L15.5,2.6 L16.3,15 L14.5,20.8 L8.6,20.2 C9.8,16 10.4,9 8.6,4.2 Z" fill="#EC8B4C"/><path d="M9.6,4.5 L9.9,19" stroke="#F6E3D1" stroke-width="0.7" fill="none" stroke-opacity="0.8"/><path d="M11.8,4.5 L12.100000000000001,19" stroke="#F6E3D1" stroke-width="0.7" fill="none" stroke-opacity="0.8"/><path d="M14.0,4.5 L14.3,19" stroke="#F6E3D1" stroke-width="0.7" fill="none" stroke-opacity="0.8"/><path d="M16.5,4 C24,3.2 31,2.4 37.2,2.4 C44,2.4 49,2.8 52.5,3.9 C55,4.8 56.4,5.8 56.4,6.9 C56,9.5 54.5,11 52.5,12 C48,14 44,15.2 40.9,15.4 C34,16 28,16.4 23.6,16.4 L16.9,16.2 Z" fill="#F6E3D1"/><path d="M22.2,7.6 L23.5,14.2" stroke="#EC8B4C" stroke-width="1.0" fill="none"/><path d="M25.0,7.6 L26.3,14.2" stroke="#EC8B4C" stroke-width="1.0" fill="none"/><path d="M27.8,7.6 L29.1,14.2" stroke="#EC8B4C" stroke-width="1.0" fill="none"/><path d="M30.6,7.6 L31.900000000000002,14.2" stroke="#EC8B4C" stroke-width="1.0" fill="none"/><path d="M45.6,6.6 C43.8,8.2 44.2,11 47.2,12.5" stroke="#D9A583" stroke-width="0.45" fill="none"/><circle cx="51.3" cy="6.0" r="0.85" fill="#EC8B4C"/></g>
<text x="592.00" y="546.46" font-size="11.6" fill="#4A4A4A" text-anchor="end" >2</text>
<text x="592.00" y="563.36" font-size="11.6" fill="#4A4A4A" text-anchor="end" >1</text>
<text x="592.00" y="580.26" font-size="11.6" fill="#4A4A4A" text-anchor="end" >0</text>
<text x="592.00" y="597.16" font-size="11.6" fill="#4A4A4A" text-anchor="end" >-1</text>
<text x="592.00" y="614.06" font-size="11.6" fill="#4A4A4A" text-anchor="end" >-2</text>
<line x1="602.70" y1="576.20" x2="675.90" y2="576.20" stroke="#D4D4D4" stroke-width="0.8" />
<text x="615.00" y="594.50" font-size="12.0" fill="#4A4A4A" text-anchor="middle" >1</text>
<text x="639.20" y="594.50" font-size="12.0" fill="#4A4A4A" text-anchor="middle" >2</text>
<text x="663.50" y="594.50" font-size="12.0" fill="#4A4A4A" text-anchor="middle" >3</text>
<polyline points="615.00,561.30 639.20,572.20 663.50,594.10" fill="none" stroke="#BEBEBE" stroke-width="3.0" stroke-linejoin="round"/>
<polyline points="615.00,559.80 639.20,574.10 663.50,592.70" fill="none" stroke="#7FFFD4" stroke-width="2.9" stroke-linejoin="round"/>
<text x="0.00" y="0.00" font-size="9.2" fill="#4D4D4D" text-anchor="middle" transform="translate(575.50,578.80) rotate(-90)">normalised BIC</text>
<text x="640.30" y="635.30" font-size="9.5" fill="#555" text-anchor="middle" >Assumed number of</text>
<text x="640.10" y="645.70" font-size="9.4" fill="#555" text-anchor="middle" >gaussian distributins</text>
</svg>
</body></html>
